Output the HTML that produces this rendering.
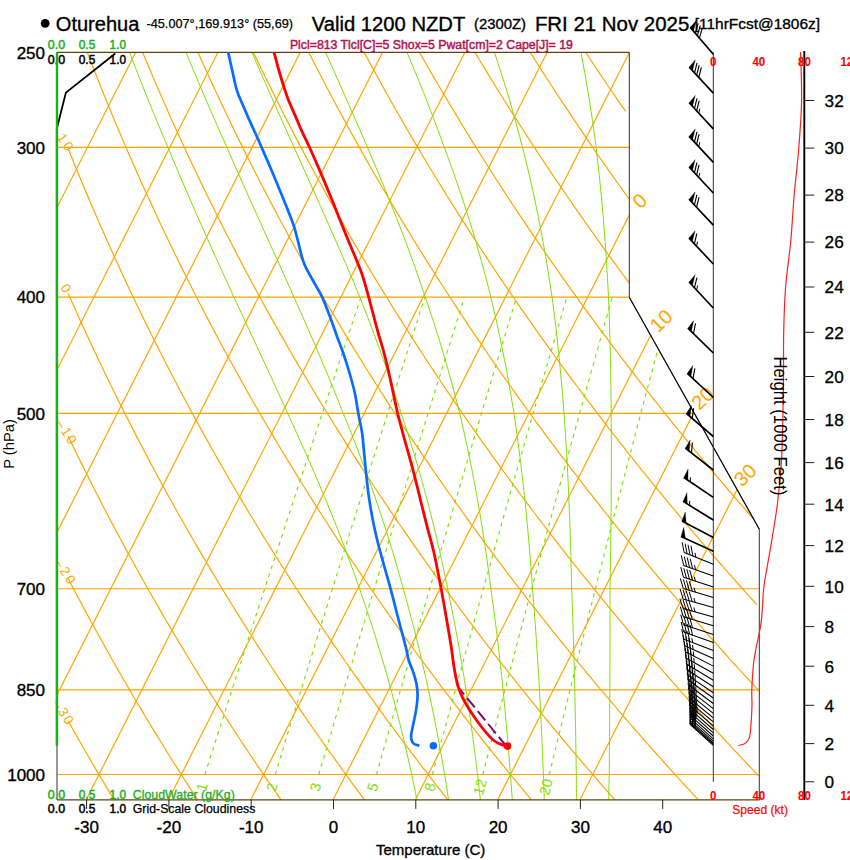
<!DOCTYPE html>
<html><head><meta charset="utf-8"><title>Oturehua Skew-T</title>
<style>html,body{margin:0;padding:0;background:#fff;}body{width:850px;height:860px;overflow:hidden;font-family:"Liberation Sans",sans-serif;}svg{display:block;}</style></head>
<body>
<svg width="850" height="860" viewBox="0 0 850 860" font-family="'Liberation Sans', sans-serif">
<defs><clipPath id="cp"><path d="M57.00 52.40 L629.30 52.40 L629.30 297.22 L759.30 529.20 L759.30 799.90 L57.00 799.90Z"/></clipPath></defs>
<g clip-path="url(#cp)" fill="none" stroke-width="1.2">
<path d="M57.0 147.37 H759.3" stroke="#ffa500"/>
<path d="M57.0 297.22 H759.3" stroke="#ffa500"/>
<path d="M57.0 413.46 H759.3" stroke="#ffa500"/>
<path d="M57.0 588.73 H759.3" stroke="#ffa500"/>
<path d="M57.0 689.86 H759.3" stroke="#ffa500"/>
<path d="M57.0 774.52 H759.3" stroke="#ffa500"/>
<path d="M-736.90 799.90 L-358.22 52.40" stroke="#ffa500"/>
<path d="M-654.60 799.90 L-275.92 52.40" stroke="#ffa500"/>
<path d="M-572.30 799.90 L-193.62 52.40" stroke="#ffa500"/>
<path d="M-490.00 799.90 L-111.32 52.40" stroke="#ffa500"/>
<path d="M-407.70 799.90 L-29.02 52.40" stroke="#ffa500"/>
<path d="M-325.40 799.90 L53.28 52.40" stroke="#ffa500"/>
<path d="M-243.10 799.90 L135.58 52.40" stroke="#ffa500"/>
<path d="M-160.80 799.90 L217.88 52.40" stroke="#ffa500"/>
<path d="M-78.50 799.90 L300.18 52.40" stroke="#ffa500"/>
<path d="M3.80 799.90 L382.48 52.40" stroke="#ffa500"/>
<path d="M86.10 799.90 L464.78 52.40" stroke="#ffa500"/>
<path d="M168.40 799.90 L547.08 52.40" stroke="#ffa500"/>
<path d="M250.70 799.90 L629.38 52.40" stroke="#ffa500"/>
<path d="M333.00 799.90 L711.68 52.40" stroke="#ffa500"/>
<path d="M415.30 799.90 L793.98 52.40" stroke="#ffa500"/>
<path d="M497.60 799.90 L876.28 52.40" stroke="#ffa500"/>
<path d="M579.90 799.90 L958.58 52.40" stroke="#ffa500"/>
<path d="M114.17 799.94 L112.67 797.45 L111.16 794.95 L109.64 792.44 L108.13 789.92 L106.61 787.38 L105.09 784.84 L103.56 782.28 L102.03 779.70 L100.49 777.12 L98.96 774.52 L97.42 771.91 L95.87 769.29 L94.32 766.65 L92.77 764.00 L91.22 761.33 L89.66 758.65 L88.09 755.96 L86.53 753.26 L84.96 750.54 L83.38 747.80 L81.80 745.05 L80.22 742.29 L78.63 739.51 L77.04 736.72 L75.45 733.91 L73.85 731.09 L72.25 728.25 L70.65 725.39 L69.04 722.52 L68.20 721.03" stroke="#ffa500"/>
<path d="M197.63 799.94 L196.01 797.45 L194.38 794.95 L192.76 792.44 L191.13 789.92 L189.49 787.38 L187.85 784.84 L186.21 782.28 L184.56 779.70 L182.91 777.12 L181.26 774.52 L179.60 771.91 L177.94 769.29 L176.27 766.65 L174.60 764.00 L172.92 761.33 L171.24 758.65 L169.56 755.96 L167.87 753.26 L166.18 750.54 L164.48 747.80 L162.78 745.05 L161.08 742.29 L159.37 739.51 L157.66 736.72 L155.94 733.91 L154.22 731.09 L152.49 728.25 L150.76 725.39 L149.02 722.52 L147.28 719.64 L145.54 716.74 L143.79 713.82 L142.03 710.88 L140.27 707.93 L138.51 704.96 L136.74 701.98 L134.97 698.98 L133.19 695.96 L131.41 692.92 L129.62 689.86 L127.83 686.79 L126.03 683.70 L124.23 680.59 L122.42 677.46 L120.61 674.31 L118.79 671.15 L116.96 667.96 L115.14 664.76 L113.30 661.53 L111.46 658.29 L109.62 655.02 L107.77 651.73 L105.92 648.43 L104.06 645.10 L102.19 641.75 L100.32 638.38 L98.45 634.98 L96.56 631.57 L94.68 628.13 L92.78 624.67 L90.88 621.18 L88.98 617.68 L87.07 614.14 L85.15 610.59 L83.23 607.01 L81.30 603.40 L79.37 599.77 L77.43 596.12 L75.48 592.44 L73.53 588.73 L71.58 584.99 L69.61 581.23 L68.20 578.52" stroke="#ffa500"/>
<path d="M281.08 799.94 L279.35 797.45 L277.61 794.95 L275.87 792.44 L274.12 789.92 L272.37 787.38 L270.62 784.84 L268.86 782.28 L267.10 779.70 L265.33 777.12 L263.56 774.52 L261.78 771.91 L260.00 769.29 L258.21 766.65 L256.42 764.00 L254.63 761.33 L252.83 758.65 L251.03 755.96 L249.22 753.26 L247.40 750.54 L245.59 747.80 L243.76 745.05 L241.94 742.29 L240.10 739.51 L238.27 736.72 L236.42 733.91 L234.58 731.09 L232.73 728.25 L230.87 725.39 L229.01 722.52 L227.14 719.64 L225.27 716.74 L223.39 713.82 L221.51 710.88 L219.62 707.93 L217.73 704.96 L215.83 701.98 L213.93 698.98 L212.02 695.96 L210.10 692.92 L208.18 689.86 L206.26 686.79 L204.33 683.70 L202.39 680.59 L200.45 677.46 L198.50 674.31 L196.55 671.15 L194.59 667.96 L192.63 664.76 L190.66 661.53 L188.68 658.29 L186.70 655.02 L184.71 651.73 L182.72 648.43 L180.72 645.10 L178.71 641.75 L176.70 638.38 L174.68 634.98 L172.66 631.57 L170.63 628.13 L168.59 624.67 L166.55 621.18 L164.50 617.68 L162.44 614.14 L160.38 610.59 L158.31 607.01 L156.23 603.40 L154.15 599.77 L152.06 596.12 L149.96 592.44 L147.86 588.73 L145.75 584.99 L143.63 581.23 L141.51 577.45 L139.38 573.63 L137.24 569.78 L135.09 565.91 L132.94 562.01 L130.78 558.08 L128.61 554.12 L126.44 550.13 L124.26 546.10 L122.07 542.05 L119.87 537.96 L117.66 533.85 L115.45 529.70 L113.23 525.51 L111.00 521.29 L108.77 517.04 L106.52 512.75 L104.27 508.43 L102.01 504.07 L99.74 499.68 L97.46 495.24 L95.17 490.77 L92.88 486.26 L90.58 481.71 L88.26 477.12 L85.94 472.49 L83.61 467.82 L81.28 463.11 L78.93 458.35 L76.57 453.55 L74.21 448.70 L71.83 443.81 L69.45 438.88 L68.20 436.28" stroke="#ffa500"/>
<path d="M364.54 799.94 L362.69 797.45 L360.84 794.95 L358.98 792.44 L357.12 789.92 L355.26 787.38 L353.39 784.84 L351.51 782.28 L349.63 779.70 L347.75 777.12 L345.86 774.52 L343.96 771.91 L342.06 769.29 L340.16 766.65 L338.25 764.00 L336.34 761.33 L334.42 758.65 L332.49 755.96 L330.56 753.26 L328.63 750.54 L326.69 747.80 L324.74 745.05 L322.79 742.29 L320.84 739.51 L318.88 736.72 L316.91 733.91 L314.94 731.09 L312.96 728.25 L310.98 725.39 L308.99 722.52 L307.00 719.64 L305.00 716.74 L303.00 713.82 L300.99 710.88 L298.97 707.93 L296.95 704.96 L294.92 701.98 L292.89 698.98 L290.85 695.96 L288.80 692.92 L286.75 689.86 L284.69 686.79 L282.63 683.70 L280.56 680.59 L278.48 677.46 L276.40 674.31 L274.31 671.15 L272.22 667.96 L270.12 664.76 L268.01 661.53 L265.90 658.29 L263.78 655.02 L261.65 651.73 L259.52 648.43 L257.38 645.10 L255.23 641.75 L253.08 638.38 L250.92 634.98 L248.75 631.57 L246.58 628.13 L244.40 624.67 L242.21 621.18 L240.01 617.68 L237.81 614.14 L235.60 610.59 L233.38 607.01 L231.16 603.40 L228.93 599.77 L226.69 596.12 L224.44 592.44 L222.19 588.73 L219.92 584.99 L217.65 581.23 L215.38 577.45 L213.09 573.63 L210.80 569.78 L208.50 565.91 L206.19 562.01 L203.87 558.08 L201.54 554.12 L199.21 550.13 L196.87 546.10 L194.52 542.05 L192.16 537.96 L189.79 533.85 L187.41 529.70 L185.02 525.51 L182.63 521.29 L180.23 517.04 L177.81 512.75 L175.39 508.43 L172.96 504.07 L170.52 499.68 L168.07 495.24 L165.61 490.77 L163.14 486.26 L160.67 481.71 L158.18 477.12 L155.68 472.49 L153.17 467.82 L150.65 463.11 L148.13 458.35 L145.59 453.55 L143.04 448.70 L140.48 443.81 L137.91 438.88 L135.33 433.89 L132.74 428.86 L130.14 423.78 L127.52 418.64 L124.90 413.46 L122.26 408.23 L119.62 402.94 L116.96 397.59 L114.29 392.20 L111.61 386.74 L108.91 381.23 L106.21 375.66 L103.49 370.03 L100.76 364.33 L98.02 358.58 L95.26 352.76 L92.49 346.87 L89.71 340.92 L86.92 334.90 L84.12 328.80 L81.30 322.64 L78.46 316.40 L75.62 310.09 L72.76 303.70 L69.88 297.22 L68.20 293.41" stroke="#ffa500"/>
<path d="M447.99 799.94 L446.03 797.45 L444.07 794.95 L442.10 792.44 L440.12 789.92 L438.14 787.38 L436.15 784.84 L434.16 782.28 L432.17 779.70 L430.16 777.12 L428.16 774.52 L426.15 771.91 L424.13 769.29 L422.10 766.65 L420.08 764.00 L418.04 761.33 L416.00 758.65 L413.96 755.96 L411.91 753.26 L409.85 750.54 L407.79 747.80 L405.73 745.05 L403.65 742.29 L401.57 739.51 L399.49 736.72 L397.40 733.91 L395.30 731.09 L393.20 728.25 L391.09 725.39 L388.98 722.52 L386.86 719.64 L384.73 716.74 L382.60 713.82 L380.46 710.88 L378.32 707.93 L376.17 704.96 L374.01 701.98 L371.85 698.98 L369.68 695.96 L367.50 692.92 L365.32 689.86 L363.13 686.79 L360.93 683.70 L358.73 680.59 L356.52 677.46 L354.30 674.31 L352.08 671.15 L349.85 667.96 L347.61 664.76 L345.37 661.53 L343.12 658.29 L340.86 655.02 L338.59 651.73 L336.32 648.43 L334.04 645.10 L331.75 641.75 L329.46 638.38 L327.15 634.98 L324.84 631.57 L322.53 628.13 L320.20 624.67 L317.87 621.18 L315.53 617.68 L313.18 614.14 L310.82 610.59 L308.46 607.01 L306.09 603.40 L303.70 599.77 L301.32 596.12 L298.92 592.44 L296.51 588.73 L294.10 584.99 L291.68 581.23 L289.24 577.45 L286.80 573.63 L284.36 569.78 L281.90 565.91 L279.43 562.01 L276.96 558.08 L274.47 554.12 L271.98 550.13 L269.48 546.10 L266.96 542.05 L264.44 537.96 L261.91 533.85 L259.37 529.70 L256.82 525.51 L254.26 521.29 L251.69 517.04 L249.11 512.75 L246.52 508.43 L243.92 504.07 L241.30 499.68 L238.68 495.24 L236.05 490.77 L233.41 486.26 L230.75 481.71 L228.09 477.12 L225.42 472.49 L222.73 467.82 L220.03 463.11 L217.32 458.35 L214.60 453.55 L211.87 448.70 L209.13 443.81 L206.37 438.88 L203.60 433.89 L200.82 428.86 L198.03 423.78 L195.23 418.64 L192.41 413.46 L189.58 408.23 L186.74 402.94 L183.89 397.59 L181.02 392.20 L178.14 386.74 L175.24 381.23 L172.34 375.66 L169.41 370.03 L166.48 364.33 L163.53 358.58 L160.57 352.76 L157.59 346.87 L154.60 340.92 L151.59 334.90 L148.57 328.80 L145.53 322.64 L142.48 316.40 L139.41 310.09 L136.33 303.70 L133.23 297.22 L130.11 290.67 L126.98 284.04 L123.83 277.32 L120.67 270.51 L117.49 263.61 L114.29 256.61 L111.08 249.53 L107.85 242.34 L104.60 235.06 L101.33 227.67 L98.04 220.17 L94.74 212.57 L91.42 204.85 L88.08 197.02 L84.72 189.07 L81.34 180.99 L77.94 172.79 L74.52 164.45 L71.08 155.98 L68.20 148.82" stroke="#ffa500"/>
<path d="M531.45 799.94 L529.37 797.45 L527.29 794.95 L525.21 792.44 L523.12 789.92 L521.02 787.38 L518.92 784.84 L516.81 782.28 L514.70 779.70 L512.58 777.12 L510.46 774.52 L508.33 771.91 L506.19 769.29 L504.05 766.65 L501.90 764.00 L499.75 761.33 L497.59 758.65 L495.43 755.96 L493.25 753.26 L491.08 750.54 L488.89 747.80 L486.71 745.05 L484.51 742.29 L482.31 739.51 L480.10 736.72 L477.89 733.91 L475.67 731.09 L473.44 728.25 L471.21 725.39 L468.97 722.52 L466.72 719.64 L464.47 716.74 L462.21 713.82 L459.94 710.88 L457.67 707.93 L455.39 704.96 L453.10 701.98 L450.81 698.98 L448.51 695.96 L446.20 692.92 L443.88 689.86 L441.56 686.79 L439.23 683.70 L436.90 680.59 L434.55 677.46 L432.20 674.31 L429.84 671.15 L427.48 667.96 L425.10 664.76 L422.72 661.53 L420.33 658.29 L417.94 655.02 L415.53 651.73 L413.12 648.43 L410.70 645.10 L408.27 641.75 L405.83 638.38 L403.39 634.98 L400.94 631.57 L398.48 628.13 L396.01 624.67 L393.53 621.18 L391.04 617.68 L388.55 614.14 L386.05 610.59 L383.53 607.01 L381.01 603.40 L378.48 599.77 L375.94 596.12 L373.40 592.44 L370.84 588.73 L368.27 584.99 L365.70 581.23 L363.11 577.45 L360.52 573.63 L357.91 569.78 L355.30 565.91 L352.68 562.01 L350.04 558.08 L347.40 554.12 L344.75 550.13 L342.08 546.10 L339.41 542.05 L336.73 537.96 L334.03 533.85 L331.33 529.70 L328.61 525.51 L325.89 521.29 L323.15 517.04 L320.40 512.75 L317.64 508.43 L314.87 504.07 L312.09 499.68 L309.29 495.24 L306.49 490.77 L303.67 486.26 L300.84 481.71 L298.00 477.12 L295.15 472.49 L292.29 467.82 L289.41 463.11 L286.52 458.35 L283.62 453.55 L280.70 448.70 L277.77 443.81 L274.83 438.88 L271.88 433.89 L268.91 428.86 L265.93 423.78 L262.94 418.64 L259.93 413.46 L256.90 408.23 L253.87 402.94 L250.82 397.59 L247.75 392.20 L244.67 386.74 L241.57 381.23 L238.46 375.66 L235.34 370.03 L232.20 364.33 L229.04 358.58 L225.87 352.76 L222.68 346.87 L219.48 340.92 L216.26 334.90 L213.02 328.80 L209.76 322.64 L206.49 316.40 L203.20 310.09 L199.90 303.70 L196.57 297.22 L193.23 290.67 L189.87 284.04 L186.49 277.32 L183.09 270.51 L179.68 263.61 L176.24 256.61 L172.79 249.53 L169.31 242.34 L165.82 235.06 L162.30 227.67 L158.77 220.17 L155.21 212.57 L151.63 204.85 L148.03 197.02 L144.41 189.07 L140.77 180.99 L137.10 172.79 L133.41 164.45 L129.70 155.98 L125.97 147.37 L122.21 138.62 L118.43 129.71 L114.62 120.65 L110.79 111.43 L106.93 102.05 L103.05 92.49 L99.15 82.75 L95.21 72.83 L91.25 62.72 L87.27 52.40" stroke="#ffa500"/>
<path d="M614.90 799.94 L612.71 797.45 L610.52 794.95 L608.32 792.44 L606.12 789.92 L603.90 787.38 L601.69 784.84 L599.46 782.28 L597.23 779.70 L595.00 777.12 L592.76 774.52 L590.51 771.91 L588.26 769.29 L586.00 766.65 L583.73 764.00 L581.46 761.33 L579.18 758.65 L576.89 755.96 L574.60 753.26 L572.30 750.54 L570.00 747.80 L567.69 745.05 L565.37 742.29 L563.04 739.51 L560.71 736.72 L558.37 733.91 L556.03 731.09 L553.68 728.25 L551.32 725.39 L548.95 722.52 L546.58 719.64 L544.20 716.74 L541.81 713.82 L539.42 710.88 L537.02 707.93 L534.61 704.96 L532.19 701.98 L529.77 698.98 L527.33 695.96 L524.90 692.92 L522.45 689.86 L519.99 686.79 L517.53 683.70 L515.06 680.59 L512.58 677.46 L510.10 674.31 L507.61 671.15 L505.10 667.96 L502.59 664.76 L500.08 661.53 L497.55 658.29 L495.01 655.02 L492.47 651.73 L489.92 648.43 L487.36 645.10 L484.79 641.75 L482.21 638.38 L479.63 634.98 L477.03 631.57 L474.43 628.13 L471.81 624.67 L469.19 621.18 L466.56 617.68 L463.92 614.14 L461.27 610.59 L458.61 607.01 L455.94 603.40 L453.26 599.77 L450.57 596.12 L447.87 592.44 L445.17 588.73 L442.45 584.99 L439.72 581.23 L436.98 577.45 L434.23 573.63 L431.47 569.78 L428.70 565.91 L425.92 562.01 L423.13 558.08 L420.33 554.12 L417.52 550.13 L414.69 546.10 L411.86 542.05 L409.01 537.96 L406.16 533.85 L403.29 529.70 L400.41 525.51 L397.51 521.29 L394.61 517.04 L391.69 512.75 L388.76 508.43 L385.82 504.07 L382.87 499.68 L379.91 495.24 L376.93 490.77 L373.94 486.26 L370.93 481.71 L367.92 477.12 L364.89 472.49 L361.84 467.82 L358.79 463.11 L355.72 458.35 L352.63 453.55 L349.53 448.70 L346.42 443.81 L343.30 438.88 L340.15 433.89 L337.00 428.86 L333.83 423.78 L330.64 418.64 L327.44 413.46 L324.22 408.23 L320.99 402.94 L317.75 397.59 L314.48 392.20 L311.20 386.74 L307.91 381.23 L304.59 375.66 L301.26 370.03 L297.92 364.33 L294.55 358.58 L291.17 352.76 L287.77 346.87 L284.36 340.92 L280.92 334.90 L277.47 328.80 L274.00 322.64 L270.51 316.40 L267.00 310.09 L263.47 303.70 L259.92 297.22 L256.35 290.67 L252.76 284.04 L249.15 277.32 L245.52 270.51 L241.86 263.61 L238.19 256.61 L234.50 249.53 L230.78 242.34 L227.04 235.06 L223.28 227.67 L219.49 220.17 L215.68 212.57 L211.85 204.85 L207.99 197.02 L204.11 189.07 L200.20 180.99 L196.27 172.79 L192.31 164.45 L188.33 155.98 L184.31 147.37 L180.28 138.62 L176.21 129.71 L172.12 120.65 L168.00 111.43 L163.85 102.05 L159.67 92.49 L155.46 82.75 L151.22 72.83 L146.95 62.72 L142.65 52.40" stroke="#ffa500"/>
<path d="M698.36 799.94 L696.06 797.45 L693.75 794.95 L691.43 792.44 L689.11 789.92 L686.79 787.38 L684.45 784.84 L682.11 782.28 L679.77 779.70 L677.42 777.12 L675.06 774.52 L672.69 771.91 L670.32 769.29 L667.94 766.65 L665.56 764.00 L663.16 761.33 L660.76 758.65 L658.36 755.96 L655.95 753.26 L653.53 750.54 L651.10 747.80 L648.67 745.05 L646.23 742.29 L643.78 739.51 L641.32 736.72 L638.86 733.91 L636.39 731.09 L633.91 728.25 L631.43 725.39 L628.94 722.52 L626.44 719.64 L623.93 716.74 L621.42 713.82 L618.89 710.88 L616.36 707.93 L613.83 704.96 L611.28 701.98 L608.73 698.98 L606.16 695.96 L603.59 692.92 L601.01 689.86 L598.43 686.79 L595.83 683.70 L593.23 680.59 L590.62 677.46 L588.00 674.31 L585.37 671.15 L582.73 667.96 L580.09 664.76 L577.43 661.53 L574.77 658.29 L572.09 655.02 L569.41 651.73 L566.72 648.43 L564.02 645.10 L561.31 641.75 L558.59 638.38 L555.86 634.98 L553.13 631.57 L550.38 628.13 L547.62 624.67 L544.85 621.18 L542.08 617.68 L539.29 614.14 L536.49 610.59 L533.68 607.01 L530.87 603.40 L528.04 599.77 L525.20 596.12 L522.35 592.44 L519.49 588.73 L516.62 584.99 L513.74 581.23 L510.85 577.45 L507.95 573.63 L505.03 569.78 L502.11 565.91 L499.17 562.01 L496.22 558.08 L493.26 554.12 L490.29 550.13 L487.30 546.10 L484.31 542.05 L481.30 537.96 L478.28 533.85 L475.24 529.70 L472.20 525.51 L469.14 521.29 L466.07 517.04 L462.99 512.75 L459.89 508.43 L456.78 504.07 L453.65 499.68 L450.52 495.24 L447.37 490.77 L444.20 486.26 L441.02 481.71 L437.83 477.12 L434.62 472.49 L431.40 467.82 L428.17 463.11 L424.91 458.35 L421.65 453.55 L418.37 448.70 L415.07 443.81 L411.76 438.88 L408.43 433.89 L405.08 428.86 L401.72 423.78 L398.35 418.64 L394.96 413.46 L391.55 408.23 L388.12 402.94 L384.67 397.59 L381.21 392.20 L377.73 386.74 L374.24 381.23 L370.72 375.66 L367.19 370.03 L363.64 364.33 L360.07 358.58 L356.48 352.76 L352.87 346.87 L349.24 340.92 L345.59 334.90 L341.92 328.80 L338.23 322.64 L334.52 316.40 L330.79 310.09 L327.04 303.70 L323.26 297.22 L319.46 290.67 L315.65 284.04 L311.80 277.32 L307.94 270.51 L304.05 263.61 L300.14 256.61 L296.20 249.53 L292.24 242.34 L288.26 235.06 L284.25 227.67 L280.21 220.17 L276.15 212.57 L272.06 204.85 L267.95 197.02 L263.80 189.07 L259.63 180.99 L255.43 172.79 L251.21 164.45 L246.95 155.98 L242.66 147.37 L238.34 138.62 L234.00 129.71 L229.62 120.65 L225.21 111.43 L220.76 102.05 L216.29 92.49 L211.77 82.75 L207.23 72.83 L202.65 62.72 L198.04 52.40" stroke="#ffa500"/>
<path d="M758.84 776.08 L757.36 774.52 L754.87 771.91 L752.38 769.29 L749.89 766.65 L747.38 764.00 L744.87 761.33 L742.35 758.65 L739.83 755.96 L737.29 753.26 L734.75 750.54 L732.20 747.80 L729.65 745.05 L727.08 742.29 L724.51 739.51 L721.93 736.72 L719.35 733.91 L716.75 731.09 L714.15 728.25 L711.54 725.39 L708.92 722.52 L706.30 719.64 L703.66 716.74 L701.02 713.82 L698.37 710.88 L695.71 707.93 L693.04 704.96 L690.37 701.98 L687.68 698.98 L684.99 695.96 L682.29 692.92 L679.58 689.86 L676.86 686.79 L674.13 683.70 L671.40 680.59 L668.65 677.46 L665.90 674.31 L663.13 671.15 L660.36 667.96 L657.58 664.76 L654.78 661.53 L651.98 658.29 L649.17 655.02 L646.35 651.73 L643.52 648.43 L640.68 645.10 L637.83 641.75 L634.97 638.38 L632.10 634.98 L629.22 631.57 L626.33 628.13 L623.43 624.67 L620.51 621.18 L617.59 617.68 L614.66 614.14 L611.72 610.59 L608.76 607.01 L605.79 603.40 L602.82 599.77 L599.83 596.12 L596.83 592.44 L593.82 588.73 L590.80 584.99 L587.76 581.23 L584.72 577.45 L581.66 573.63 L578.59 569.78 L575.51 565.91 L572.41 562.01 L569.31 558.08 L566.19 554.12 L563.06 550.13 L559.91 546.10 L556.75 542.05 L553.58 537.96 L550.40 533.85 L547.20 529.70 L543.99 525.51 L540.77 521.29 L537.53 517.04 L534.28 512.75 L531.01 508.43 L527.73 504.07 L524.44 499.68 L521.13 495.24 L517.81 490.77 L514.47 486.26 L511.11 481.71 L507.74 477.12 L504.36 472.49 L500.96 467.82 L497.54 463.11 L494.11 458.35 L490.66 453.55 L487.20 448.70 L483.72 443.81 L480.22 438.88 L476.70 433.89 L473.17 428.86 L469.62 423.78 L466.05 418.64 L462.47 413.46 L458.87 408.23 L455.24 402.94 L451.60 397.59 L447.94 392.20 L444.27 386.74 L440.57 381.23 L436.85 375.66 L433.11 370.03 L429.36 364.33 L425.58 358.58 L421.78 352.76 L417.96 346.87 L414.12 340.92 L410.26 334.90 L406.37 328.80 L402.46 322.64 L398.53 316.40 L394.58 310.09 L390.61 303.70 L386.61 297.22 L382.58 290.67 L378.53 284.04 L374.46 277.32 L370.36 270.51 L366.24 263.61 L362.09 256.61 L357.91 249.53 L353.71 242.34 L349.48 235.06 L345.22 227.67 L340.94 220.17 L336.62 212.57 L332.28 204.85 L327.90 197.02 L323.50 189.07 L319.06 180.99 L314.60 172.79 L310.10 164.45 L305.57 155.98 L301.01 147.37 L296.41 138.62 L291.78 129.71 L287.11 120.65 L282.41 111.43 L277.68 102.05 L272.90 92.49 L268.09 82.75 L263.24 72.83 L258.35 62.72 L253.42 52.40" stroke="#ffa500"/>
<path d="M759.28 691.09 L758.15 689.86 L755.30 686.79 L752.43 683.70 L749.56 680.59 L746.68 677.46 L743.80 674.31 L740.90 671.15 L737.99 667.96 L735.07 664.76 L732.14 661.53 L729.20 658.29 L726.25 655.02 L723.29 651.73 L720.32 648.43 L717.34 645.10 L714.35 641.75 L711.35 638.38 L708.34 634.98 L705.31 631.57 L702.28 628.13 L699.23 624.67 L696.18 621.18 L693.11 617.68 L690.03 614.14 L686.94 610.59 L683.84 607.01 L680.72 603.40 L677.60 599.77 L674.46 596.12 L671.31 592.44 L668.15 588.73 L664.97 584.99 L661.78 581.23 L658.59 577.45 L655.37 573.63 L652.15 569.78 L648.91 565.91 L645.66 562.01 L642.39 558.08 L639.12 554.12 L635.83 550.13 L632.52 546.10 L629.20 542.05 L625.87 537.96 L622.52 533.85 L619.16 529.70 L615.79 525.51 L612.40 521.29 L608.99 517.04 L605.57 512.75 L602.14 508.43 L598.69 504.07 L595.22 499.68 L591.74 495.24 L588.24 490.77 L584.73 486.26 L581.20 481.71 L577.66 477.12 L574.10 472.49 L570.52 467.82 L566.92 463.11 L563.31 458.35 L559.68 453.55 L556.03 448.70 L552.36 443.81 L548.68 438.88 L544.98 433.89 L541.26 428.86 L537.52 423.78 L533.76 418.64 L529.98 413.46 L526.19 408.23 L522.37 402.94 L518.53 397.59 L514.68 392.20 L510.80 386.74 L506.90 381.23 L502.98 375.66 L499.04 370.03 L495.08 364.33 L491.09 358.58 L487.08 352.76 L483.05 346.87 L479.00 340.92 L474.92 334.90 L470.82 328.80 L466.70 322.64 L462.55 316.40 L458.37 310.09 L454.18 303.70 L449.95 297.22 L445.70 290.67 L441.42 284.04 L437.12 277.32 L432.79 270.51 L428.43 263.61 L424.04 256.61 L419.62 249.53 L415.18 242.34 L410.70 235.06 L406.20 227.67 L401.66 220.17 L397.09 212.57 L392.49 204.85 L387.86 197.02 L383.20 189.07 L378.50 180.99 L373.76 172.79 L369.00 164.45 L364.19 155.98 L359.35 147.37 L354.48 138.62 L349.56 129.71 L344.61 120.65 L339.62 111.43 L334.59 102.05 L329.52 92.49 L324.40 82.75 L319.25 72.83 L314.05 62.72 L308.81 52.40" stroke="#ffa500"/>
<path d="M756.96 604.85 L755.65 603.40 L752.37 599.77 L749.09 596.12 L745.79 592.44 L742.47 588.73 L739.15 584.99 L735.81 581.23 L732.45 577.45 L729.09 573.63 L725.71 569.78 L722.31 565.91 L718.90 562.01 L715.48 558.08 L712.05 554.12 L708.60 550.13 L705.13 546.10 L701.65 542.05 L698.16 537.96 L694.65 533.85 L691.12 529.70 L687.58 525.51 L684.02 521.29 L680.45 517.04 L676.87 512.75 L673.26 508.43 L669.64 504.07 L666.01 499.68 L662.35 495.24 L658.68 490.77 L655.00 486.26 L651.29 481.71 L647.57 477.12 L643.83 472.49 L640.07 467.82 L636.30 463.11 L632.51 458.35 L628.69 453.55 L624.86 448.70 L621.01 443.81 L617.14 438.88 L613.25 433.89 L609.35 428.86 L605.42 423.78 L601.47 418.64 L597.50 413.46 L593.51 408.23 L589.50 402.94 L585.46 397.59 L581.41 392.20 L577.33 386.74 L573.23 381.23 L569.11 375.66 L564.96 370.03 L560.80 364.33 L556.60 358.58 L552.39 352.76 L548.15 346.87 L543.88 340.92 L539.59 334.90 L535.27 328.80 L530.93 322.64 L526.56 316.40 L522.17 310.09 L517.74 303.70 L513.29 297.22 L508.82 290.67 L504.31 284.04 L499.77 277.32 L495.21 270.51 L490.61 263.61 L485.99 256.61 L481.33 249.53 L476.64 242.34 L471.92 235.06 L467.17 227.67 L462.38 220.17 L457.56 212.57 L452.71 204.85 L447.82 197.02 L442.89 189.07 L437.93 180.99 L432.93 172.79 L427.89 164.45 L422.82 155.98 L417.70 147.37 L412.54 138.62 L407.35 129.71 L402.11 120.65 L396.83 111.43 L391.50 102.05 L386.13 92.49 L380.72 82.75 L375.26 72.83 L369.75 62.72 L364.19 52.40" stroke="#ffa500"/>
<path d="M757.89 523.83 L755.65 521.29 L751.91 517.04 L748.16 512.75 L744.39 508.43 L740.60 504.07 L736.79 499.68 L732.96 495.24 L729.12 490.77 L725.26 486.26 L721.38 481.71 L717.48 477.12 L713.57 472.49 L709.63 467.82 L705.68 463.11 L701.70 458.35 L697.71 453.55 L693.69 448.70 L689.66 443.81 L685.60 438.88 L681.53 433.89 L677.43 428.86 L673.31 423.78 L669.17 418.64 L665.01 413.46 L660.83 408.23 L656.62 402.94 L652.39 397.59 L648.14 392.20 L643.86 386.74 L639.56 381.23 L635.24 375.66 L630.89 370.03 L626.51 364.33 L622.12 358.58 L617.69 352.76 L613.24 346.87 L608.76 340.92 L604.26 334.90 L599.72 328.80 L595.16 322.64 L590.58 316.40 L585.96 310.09 L581.31 303.70 L576.64 297.22 L571.93 290.67 L567.20 284.04 L562.43 277.32 L557.63 270.51 L552.80 263.61 L547.94 256.61 L543.04 249.53 L538.11 242.34 L533.14 235.06 L528.14 227.67 L523.11 220.17 L518.03 212.57 L512.92 204.85 L507.77 197.02 L502.59 189.07 L497.36 180.99 L492.09 172.79 L486.79 164.45 L481.44 155.98 L476.05 147.37 L470.61 138.62 L465.13 129.71 L459.61 120.65 L454.04 111.43 L448.42 102.05 L442.75 92.49 L437.03 82.75 L431.27 72.83 L425.45 62.72 L419.58 52.40" stroke="#ffa500"/>
<path d="M635.05 290.67 L630.09 284.04 L625.09 277.32 L620.05 270.51 L614.99 263.61 L609.89 256.61 L604.75 249.53 L599.57 242.34 L594.36 235.06 L589.12 227.67 L583.83 220.17 L578.50 212.57 L573.14 204.85 L567.73 197.02 L562.28 189.07 L556.79 180.99 L551.26 172.79 L545.68 164.45 L540.06 155.98 L534.39 147.37 L528.68 138.62 L522.92 129.71 L517.10 120.65 L511.24 111.43 L505.33 102.05 L499.37 92.49 L493.35 82.75 L487.28 72.83 L481.15 62.72 L474.96 52.40" stroke="#ffa500"/>
<path d="M632.22 203.29 L627.69 197.02 L621.98 189.07 L616.22 180.99 L610.43 172.79 L604.58 164.45 L598.68 155.98 L592.74 147.37 L586.74 138.62 L580.70 129.71 L574.60 120.65 L568.45 111.43 L562.24 102.05 L555.98 92.49 L549.66 82.75 L543.28 72.83 L536.85 62.72 L530.35 52.40" stroke="#ffa500"/>
<path d="M625.66 111.43 L619.16 102.05 L612.60 92.49 L605.98 82.75 L599.29 72.83 L592.55 62.72 L585.73 52.40" stroke="#ffa500"/>
<path d="M1366.00 799.94 L1362.79 797.45 L1359.57 794.95 L1356.34 792.44 L1353.10 789.92 L1349.85 787.38 L1346.59 784.84 L1343.32 782.28 L1340.04 779.70 L1336.75 777.12 L1333.46 774.52 L1330.15 771.91 L1326.83 769.29 L1323.50 766.65 L1320.17 764.00 L1316.82 761.33 L1313.46 758.65 L1310.09 755.96 L1306.71 753.26 L1303.32 750.54 L1299.92 747.80 L1296.51 745.05 L1293.09 742.29 L1289.66 739.51 L1286.21 736.72 L1282.76 733.91 L1279.29 731.09 L1275.81 728.25 L1272.33 725.39 L1268.83 722.52 L1265.31 719.64 L1261.79 716.74 L1258.26 713.82 L1254.71 710.88 L1251.15 707.93 L1247.58 704.96 L1244.00 701.98 L1240.40 698.98 L1236.80 695.96 L1233.18 692.92 L1229.54 689.86 L1225.90 686.79 L1222.24 683.70 L1218.57 680.59 L1214.89 677.46 L1211.19 674.31 L1207.48 671.15 L1203.75 667.96 L1200.02 664.76 L1196.27 661.53 L1192.50 658.29 L1188.72 655.02 L1184.93 651.73 L1181.12 648.43 L1177.30 645.10 L1173.47 641.75 L1169.62 638.38 L1165.75 634.98 L1161.87 631.57 L1157.98 628.13 L1154.07 624.67 L1150.15 621.18 L1146.20 617.68 L1142.25 614.14 L1138.28 610.59 L1134.29 607.01 L1130.29 603.40 L1126.27 599.77 L1122.23 596.12 L1118.18 592.44 L1114.11 588.73 L1110.02 584.99 L1105.91 581.23 L1101.79 577.45 L1097.65 573.63 L1093.50 569.78 L1089.32 565.91 L1085.13 562.01 L1080.92 558.08 L1076.69 554.12 L1072.44 550.13 L1068.18 546.10 L1063.89 542.05 L1059.58 537.96 L1055.26 533.85 L1050.91 529.70 L1046.55 525.51 L1042.16 521.29 L1037.76 517.04 L1033.33 512.75 L1028.88 508.43 L1024.41 504.07 L1019.92 499.68 L1015.41 495.24 L1010.88 490.77 L1006.32 486.26 L1001.74 481.71 L997.14 477.12 L992.51 472.49 L987.86 467.82 L983.19 463.11 L978.49 458.35 L973.77 453.55 L969.02 448.70 L964.25 443.81 L959.45 438.88 L954.63 433.89 L949.78 428.86 L944.90 423.78 L940.00 418.64 L935.07 413.46 L930.11 408.23 L925.12 402.94 L920.11 397.59 L915.06 392.20 L909.99 386.74 L904.89 381.23 L899.75 375.66 L894.59 370.03 L889.39 364.33 L884.16 358.58 L878.90 352.76 L873.61 346.87 L868.28 340.92 L862.92 334.90 L857.53 328.80 L852.10 322.64 L846.63 316.40 L841.13 310.09 L835.59 303.70 L830.02 297.22 L824.40 290.67 L818.75 284.04 L813.06 277.32 L807.32 270.51 L801.55 263.61 L795.73 256.61 L789.87 249.53 L783.97 242.34 L778.03 235.06 L772.04 227.67 L766.00 220.17 L759.91 212.57 L753.78 204.85 L747.60 197.02 L741.37 189.07 L735.09 180.99 L728.76 172.79 L722.37 164.45 L715.93 155.98 L709.43 147.37 L702.88 138.62 L696.27 129.71 L689.60 120.65 L682.87 111.43 L676.07 102.05 L669.21 92.49 L662.29 82.75 L655.30 72.83 L648.24 62.72 L641.12 52.40" stroke="#ffa500"/>
<path d="M1449.46 799.94 L1446.13 797.45 L1442.79 794.95 L1439.45 792.44 L1436.10 789.92 L1432.73 787.38 L1429.36 784.84 L1425.97 782.28 L1422.58 779.70 L1419.17 777.12 L1415.76 774.52 L1412.33 771.91 L1408.90 769.29 L1405.45 766.65 L1401.99 764.00 L1398.53 761.33 L1395.05 758.65 L1391.56 755.96 L1388.06 753.26 L1384.55 750.54 L1381.02 747.80 L1377.49 745.05 L1373.95 742.29 L1370.39 739.51 L1366.82 736.72 L1363.25 733.91 L1359.65 731.09 L1356.05 728.25 L1352.44 725.39 L1348.81 722.52 L1345.17 719.64 L1341.52 716.74 L1337.86 713.82 L1334.19 710.88 L1330.50 707.93 L1326.80 704.96 L1323.09 701.98 L1319.36 698.98 L1315.62 695.96 L1311.87 692.92 L1308.11 689.86 L1304.33 686.79 L1300.54 683.70 L1296.74 680.59 L1292.92 677.46 L1289.09 674.31 L1285.24 671.15 L1281.38 667.96 L1277.51 664.76 L1273.62 661.53 L1269.72 658.29 L1265.80 655.02 L1261.87 651.73 L1257.92 648.43 L1253.96 645.10 L1249.99 641.75 L1246.00 638.38 L1241.99 634.98 L1237.97 631.57 L1233.93 628.13 L1229.88 624.67 L1225.81 621.18 L1221.72 617.68 L1217.62 614.14 L1213.50 610.59 L1209.36 607.01 L1205.21 603.40 L1201.04 599.77 L1196.86 596.12 L1192.65 592.44 L1188.43 588.73 L1184.19 584.99 L1179.94 581.23 L1175.66 577.45 L1171.37 573.63 L1167.06 569.78 L1162.73 565.91 L1158.38 562.01 L1154.01 558.08 L1149.62 554.12 L1145.21 550.13 L1140.78 546.10 L1136.34 542.05 L1131.87 537.96 L1127.38 533.85 L1122.87 529.70 L1118.34 525.51 L1113.79 521.29 L1109.22 517.04 L1104.62 512.75 L1100.01 508.43 L1095.37 504.07 L1090.71 499.68 L1086.02 495.24 L1081.31 490.77 L1076.58 486.26 L1071.83 481.71 L1067.05 477.12 L1062.25 472.49 L1057.42 467.82 L1052.57 463.11 L1047.69 458.35 L1042.78 453.55 L1037.85 448.70 L1032.90 443.81 L1027.91 438.88 L1022.90 433.89 L1017.87 428.86 L1012.80 423.78 L1007.71 418.64 L1002.58 413.46 L997.43 408.23 L992.25 402.94 L987.04 397.59 L981.80 392.20 L976.52 386.74 L971.22 381.23 L965.88 375.66 L960.51 370.03 L955.11 364.33 L949.68 358.58 L944.21 352.76 L938.70 346.87 L933.16 340.92 L927.59 334.90 L921.98 328.80 L916.33 322.64 L910.65 316.40 L904.92 310.09 L899.16 303.70 L893.36 297.22 L887.52 290.67 L881.64 284.04 L875.71 277.32 L869.75 270.51 L863.74 263.61 L857.68 256.61 L851.58 249.53 L845.44 242.34 L839.25 235.06 L833.01 227.67 L826.72 220.17 L820.38 212.57 L814.00 204.85 L807.56 197.02 L801.07 189.07 L794.52 180.99 L787.92 172.79 L781.26 164.45 L774.55 155.98 L767.78 147.37 L760.95 138.62 L754.05 129.71 L747.09 120.65 L740.07 111.43 L732.99 102.05 L725.83 92.49 L718.61 82.75 L711.31 72.83 L703.94 62.72 L696.50 52.40" stroke="#ffa500"/>
<path d="M1532.91 799.94 L1529.47 797.45 L1526.02 794.95 L1522.56 792.44 L1519.09 789.92 L1515.61 787.38 L1512.12 784.84 L1508.62 782.28 L1505.11 779.70 L1501.59 777.12 L1498.06 774.52 L1494.51 771.91 L1490.96 769.29 L1487.40 766.65 L1483.82 764.00 L1480.23 761.33 L1476.63 758.65 L1473.02 755.96 L1469.40 753.26 L1465.77 750.54 L1462.13 747.80 L1458.47 745.05 L1454.80 742.29 L1451.13 739.51 L1447.44 736.72 L1443.73 733.91 L1440.02 731.09 L1436.29 728.25 L1432.55 725.39 L1428.80 722.52 L1425.03 719.64 L1421.26 716.74 L1417.47 713.82 L1413.66 710.88 L1409.85 707.93 L1406.02 704.96 L1402.18 701.98 L1398.32 698.98 L1394.45 695.96 L1390.57 692.92 L1386.68 689.86 L1382.77 686.79 L1378.84 683.70 L1374.90 680.59 L1370.95 677.46 L1366.99 674.31 L1363.01 671.15 L1359.01 667.96 L1355.00 664.76 L1350.98 661.53 L1346.94 658.29 L1342.88 655.02 L1338.81 651.73 L1334.73 648.43 L1330.62 645.10 L1326.51 641.75 L1322.37 638.38 L1318.23 634.98 L1314.06 631.57 L1309.88 628.13 L1305.68 624.67 L1301.47 621.18 L1297.24 617.68 L1292.99 614.14 L1288.72 610.59 L1284.44 607.01 L1280.14 603.40 L1275.82 599.77 L1271.49 596.12 L1267.13 592.44 L1262.76 588.73 L1258.37 584.99 L1253.96 581.23 L1249.53 577.45 L1245.08 573.63 L1240.61 569.78 L1236.13 565.91 L1231.62 562.01 L1227.10 558.08 L1222.55 554.12 L1217.98 550.13 L1213.39 546.10 L1208.79 542.05 L1204.16 537.96 L1199.50 533.85 L1194.83 529.70 L1190.14 525.51 L1185.42 521.29 L1180.68 517.04 L1175.92 512.75 L1171.13 508.43 L1166.32 504.07 L1161.49 499.68 L1156.63 495.24 L1151.75 490.77 L1146.85 486.26 L1141.92 481.71 L1136.96 477.12 L1131.98 472.49 L1126.98 467.82 L1121.94 463.11 L1116.89 458.35 L1111.80 453.55 L1106.69 448.70 L1101.55 443.81 L1096.38 438.88 L1091.18 433.89 L1085.95 428.86 L1080.70 423.78 L1075.41 418.64 L1070.10 413.46 L1064.75 408.23 L1059.38 402.94 L1053.97 397.59 L1048.53 392.20 L1043.06 386.74 L1037.55 381.23 L1032.01 375.66 L1026.44 370.03 L1020.83 364.33 L1015.19 358.58 L1009.51 352.76 L1003.80 346.87 L998.05 340.92 L992.26 334.90 L986.43 328.80 L980.57 322.64 L974.66 316.40 L968.72 310.09 L962.73 303.70 L956.71 297.22 L950.64 290.67 L944.52 284.04 L938.37 277.32 L932.17 270.51 L925.92 263.61 L919.63 256.61 L913.29 249.53 L906.90 242.34 L900.47 235.06 L893.98 227.67 L887.44 220.17 L880.86 212.57 L874.21 204.85 L867.52 197.02 L860.76 189.07 L853.95 180.99 L847.09 172.79 L840.16 164.45 L833.17 155.98 L826.12 147.37 L819.01 138.62 L811.84 129.71 L804.59 120.65 L797.28 111.43 L789.90 102.05 L782.45 92.49 L774.92 82.75 L767.32 72.83 L759.64 62.72 L751.89 52.40" stroke="#ffa500"/>
<path d="M1616.37 799.94 L1612.81 797.45 L1609.25 794.95 L1605.68 792.44 L1602.09 789.92 L1598.50 787.38 L1594.89 784.84 L1591.27 782.28 L1587.65 779.70 L1584.01 777.12 L1580.36 774.52 L1576.70 771.91 L1573.02 769.29 L1569.34 766.65 L1565.65 764.00 L1561.94 761.33 L1558.22 758.65 L1554.49 755.96 L1550.75 753.26 L1547.00 750.54 L1543.23 747.80 L1539.45 745.05 L1535.66 742.29 L1531.86 739.51 L1528.05 736.72 L1524.22 733.91 L1520.38 731.09 L1516.53 728.25 L1512.66 725.39 L1508.78 722.52 L1504.89 719.64 L1500.99 716.74 L1497.07 713.82 L1493.14 710.88 L1489.20 707.93 L1485.24 704.96 L1481.27 701.98 L1477.28 698.98 L1473.28 695.96 L1469.27 692.92 L1465.24 689.86 L1461.20 686.79 L1457.14 683.70 L1453.07 680.59 L1448.99 677.46 L1444.88 674.31 L1440.77 671.15 L1436.64 667.96 L1432.49 664.76 L1428.33 661.53 L1424.15 658.29 L1419.96 655.02 L1415.75 651.73 L1411.53 648.43 L1407.28 645.10 L1403.03 641.75 L1398.75 638.38 L1394.46 634.98 L1390.15 631.57 L1385.83 628.13 L1381.49 624.67 L1377.13 621.18 L1372.75 617.68 L1368.36 614.14 L1363.95 610.59 L1359.52 607.01 L1355.07 603.40 L1350.60 599.77 L1346.11 596.12 L1341.61 592.44 L1337.09 588.73 L1332.54 584.99 L1327.98 581.23 L1323.40 577.45 L1318.80 573.63 L1314.17 569.78 L1309.53 565.91 L1304.87 562.01 L1300.18 558.08 L1295.48 554.12 L1290.75 550.13 L1286.00 546.10 L1281.23 542.05 L1276.44 537.96 L1271.63 533.85 L1266.79 529.70 L1261.93 525.51 L1257.05 521.29 L1252.14 517.04 L1247.21 512.75 L1242.26 508.43 L1237.28 504.07 L1232.27 499.68 L1227.25 495.24 L1222.19 490.77 L1217.11 486.26 L1212.01 481.71 L1206.88 477.12 L1201.72 472.49 L1196.53 467.82 L1191.32 463.11 L1186.08 458.35 L1180.81 453.55 L1175.52 448.70 L1170.19 443.81 L1164.84 438.88 L1159.45 433.89 L1154.04 428.86 L1148.60 423.78 L1143.12 418.64 L1137.61 413.46 L1132.07 408.23 L1126.50 402.94 L1120.90 397.59 L1115.26 392.20 L1109.59 386.74 L1103.88 381.23 L1098.14 375.66 L1092.36 370.03 L1086.55 364.33 L1080.70 358.58 L1074.81 352.76 L1068.89 346.87 L1062.93 340.92 L1056.92 334.90 L1050.88 328.80 L1044.80 322.64 L1038.68 316.40 L1032.51 310.09 L1026.30 303.70 L1020.05 297.22 L1013.75 290.67 L1007.41 284.04 L1001.03 277.32 L994.59 270.51 L988.11 263.61 L981.58 256.61 L975.00 249.53 L968.37 242.34 L961.69 235.06 L954.96 227.67 L948.17 220.17 L941.33 212.57 L934.43 204.85 L927.47 197.02 L920.46 189.07 L913.39 180.99 L906.25 172.79 L899.06 164.45 L891.80 155.98 L884.47 147.37 L877.08 138.62 L869.62 129.71 L862.09 120.65 L854.49 111.43 L846.81 102.05 L839.06 92.49 L831.24 82.75 L823.33 72.83 L815.34 62.72 L807.27 52.40" stroke="#ffa500"/>
<path d="M1699.82 799.94 L1696.15 797.45 L1692.48 794.95 L1688.79 792.44 L1685.09 789.92 L1681.38 787.38 L1677.66 784.84 L1673.92 782.28 L1670.18 779.70 L1666.42 777.12 L1662.66 774.52 L1658.88 771.91 L1655.09 769.29 L1651.29 766.65 L1647.47 764.00 L1643.65 761.33 L1639.81 758.65 L1635.96 755.96 L1632.10 753.26 L1628.22 750.54 L1624.33 747.80 L1620.43 745.05 L1616.52 742.29 L1612.60 739.51 L1608.66 736.72 L1604.71 733.91 L1600.74 731.09 L1596.77 728.25 L1592.77 725.39 L1588.77 722.52 L1584.75 719.64 L1580.72 716.74 L1576.68 713.82 L1572.62 710.88 L1568.55 707.93 L1564.46 704.96 L1560.36 701.98 L1556.24 698.98 L1552.11 695.96 L1547.97 692.92 L1543.81 689.86 L1539.63 686.79 L1535.44 683.70 L1531.24 680.59 L1527.02 677.46 L1522.78 674.31 L1518.53 671.15 L1514.27 667.96 L1509.98 664.76 L1505.68 661.53 L1501.37 658.29 L1497.04 655.02 L1492.69 651.73 L1488.33 648.43 L1483.95 645.10 L1479.55 641.75 L1475.13 638.38 L1470.70 634.98 L1466.25 631.57 L1461.78 628.13 L1457.29 624.67 L1452.79 621.18 L1448.27 617.68 L1443.73 614.14 L1439.17 610.59 L1434.59 607.01 L1429.99 603.40 L1425.38 599.77 L1420.74 596.12 L1416.09 592.44 L1411.41 588.73 L1406.72 584.99 L1402.00 581.23 L1397.27 577.45 L1392.51 573.63 L1387.73 569.78 L1382.93 565.91 L1378.11 562.01 L1373.27 558.08 L1368.41 554.12 L1363.52 550.13 L1358.61 546.10 L1353.68 542.05 L1348.73 537.96 L1343.75 533.85 L1338.75 529.70 L1333.72 525.51 L1328.67 521.29 L1323.60 517.04 L1318.50 512.75 L1313.38 508.43 L1308.23 504.07 L1303.06 499.68 L1297.86 495.24 L1292.63 490.77 L1287.38 486.26 L1282.10 481.71 L1276.79 477.12 L1271.46 472.49 L1266.09 467.82 L1260.70 463.11 L1255.28 458.35 L1249.83 453.55 L1244.35 448.70 L1238.84 443.81 L1233.30 438.88 L1227.73 433.89 L1222.13 428.86 L1216.49 423.78 L1210.83 418.64 L1205.13 413.46 L1199.39 408.23 L1193.63 402.94 L1187.83 397.59 L1181.99 392.20 L1176.12 386.74 L1170.21 381.23 L1164.27 375.66 L1158.29 370.03 L1152.27 364.33 L1146.21 358.58 L1140.12 352.76 L1133.98 346.87 L1127.81 340.92 L1121.59 334.90 L1115.33 328.80 L1109.03 322.64 L1102.69 316.40 L1096.30 310.09 L1089.87 303.70 L1083.39 297.22 L1076.87 290.67 L1070.30 284.04 L1063.68 277.32 L1057.01 270.51 L1050.30 263.61 L1043.53 256.61 L1036.71 249.53 L1029.84 242.34 L1022.91 235.06 L1015.93 227.67 L1008.89 220.17 L1001.80 212.57 L994.64 204.85 L987.43 197.02 L980.15 189.07 L972.82 180.99 L965.42 172.79 L957.95 164.45 L950.42 155.98 L942.82 147.37 L935.15 138.62 L927.40 129.71 L919.59 120.65 L911.70 111.43 L903.73 102.05 L895.68 92.49 L887.55 82.75 L879.34 72.83 L871.04 62.72 L862.66 52.40" stroke="#ffa500"/>
<path d="M1783.28 799.94 L1779.50 797.45 L1775.70 794.95 L1771.90 792.44 L1768.09 789.92 L1764.26 787.38 L1760.42 784.84 L1756.57 782.28 L1752.71 779.70 L1748.84 777.12 L1744.96 774.52 L1741.06 771.91 L1737.15 769.29 L1733.23 766.65 L1729.30 764.00 L1725.35 761.33 L1721.39 758.65 L1717.42 755.96 L1713.44 753.26 L1709.44 750.54 L1705.44 747.80 L1701.41 745.05 L1697.38 742.29 L1693.33 739.51 L1689.27 736.72 L1685.19 733.91 L1681.10 731.09 L1677.00 728.25 L1672.89 725.39 L1668.76 722.52 L1664.61 719.64 L1660.45 716.74 L1656.28 713.82 L1652.09 710.88 L1647.89 707.93 L1643.68 704.96 L1639.45 701.98 L1635.20 698.98 L1630.94 695.96 L1626.66 692.92 L1622.37 689.86 L1618.07 686.79 L1613.74 683.70 L1609.41 680.59 L1605.05 677.46 L1600.68 674.31 L1596.30 671.15 L1591.89 667.96 L1587.47 664.76 L1583.04 661.53 L1578.59 658.29 L1574.12 655.02 L1569.63 651.73 L1565.13 648.43 L1560.61 645.10 L1556.07 641.75 L1551.51 638.38 L1546.94 634.98 L1542.34 631.57 L1537.73 628.13 L1533.10 624.67 L1528.45 621.18 L1523.78 617.68 L1519.10 614.14 L1514.39 610.59 L1509.67 607.01 L1504.92 603.40 L1500.16 599.77 L1495.37 596.12 L1490.57 592.44 L1485.74 588.73 L1480.89 584.99 L1476.02 581.23 L1471.13 577.45 L1466.22 573.63 L1461.29 569.78 L1456.33 565.91 L1451.36 562.01 L1446.36 558.08 L1441.34 554.12 L1436.29 550.13 L1431.22 546.10 L1426.13 542.05 L1421.01 537.96 L1415.87 533.85 L1410.71 529.70 L1405.52 525.51 L1400.30 521.29 L1395.06 517.04 L1389.80 512.75 L1384.50 508.43 L1379.19 504.07 L1373.84 499.68 L1368.47 495.24 L1363.07 490.77 L1357.64 486.26 L1352.19 481.71 L1346.70 477.12 L1341.19 472.49 L1335.65 467.82 L1330.08 463.11 L1324.48 458.35 L1318.85 453.55 L1313.18 448.70 L1307.49 443.81 L1301.76 438.88 L1296.00 433.89 L1290.21 428.86 L1284.39 423.78 L1278.53 418.64 L1272.64 413.46 L1266.71 408.23 L1260.75 402.94 L1254.76 397.59 L1248.72 392.20 L1242.65 386.74 L1236.54 381.23 L1230.40 375.66 L1224.21 370.03 L1217.99 364.33 L1211.73 358.58 L1205.42 352.76 L1199.08 346.87 L1192.69 340.92 L1186.26 334.90 L1179.78 328.80 L1173.27 322.64 L1166.70 316.40 L1160.10 310.09 L1153.44 303.70 L1146.74 297.22 L1139.99 290.67 L1133.19 284.04 L1126.34 277.32 L1119.44 270.51 L1112.48 263.61 L1105.48 256.61 L1098.42 249.53 L1091.30 242.34 L1084.13 235.06 L1076.90 227.67 L1069.61 220.17 L1062.27 212.57 L1054.86 204.85 L1047.39 197.02 L1039.85 189.07 L1032.25 180.99 L1024.58 172.79 L1016.85 164.45 L1009.04 155.98 L1001.16 147.37 L993.21 138.62 L985.19 129.71 L977.08 120.65 L968.90 111.43 L960.64 102.05 L952.30 92.49 L943.87 82.75 L935.35 72.83 L926.74 62.72 L918.04 52.40" stroke="#ffa500"/>
<path d="M416.89 799.94 L416.40 797.45 L415.90 794.95 L415.40 792.44 L414.89 789.92 L414.37 787.38 L413.85 784.84 L413.32 782.28 L412.79 779.70 L412.25 777.12 L411.69 774.52 L411.13 771.91 L410.55 769.29 L409.97 766.65 L409.38 764.00 L408.78 761.33 L408.18 758.65 L407.57 755.96 L406.94 753.26 L406.32 750.54 L405.68 747.80 L405.03 745.05 L404.38 742.29 L403.72 739.51 L403.06 736.72 L402.38 733.91 L401.69 731.09 L400.99 728.25 L400.29 725.39 L399.58 722.52 L398.85 719.64 L398.11 716.74 L397.37 713.82 L396.62 710.88 L395.85 707.93 L395.08 704.96 L394.29 701.98 L393.50 698.98 L392.68 695.96 L391.87 692.92 L391.04 689.86 L390.20 686.79 L389.34 683.70 L388.47 680.59 L387.59 677.46 L386.71 674.31 L385.80 671.15 L384.88 667.96 L383.95 664.76 L383.01 661.53 L382.05 658.29 L381.07 655.02 L380.09 651.73 L379.09 648.43 L378.07 645.10 L377.04 641.75 L375.99 638.38 L374.93 634.98 L373.85 631.57 L372.75 628.13 L371.63 624.67 L370.50 621.18 L369.36 617.68 L368.19 614.14 L367.01 610.59 L365.81 607.01 L364.58 603.40 L363.35 599.77 L362.09 596.12 L360.80 592.44 L359.51 588.73 L358.21 584.99 L356.91 581.23 L355.57 577.45 L354.22 573.63 L352.84 569.78 L351.44 565.91 L350.02 562.01 L348.58 558.08 L347.11 554.12 L345.61 550.13 L344.10 546.10 L342.56 542.05 L340.99 537.96 L339.40 533.85 L337.79 529.70 L336.14 525.51 L334.47 521.29 L332.77 517.04 L331.05 512.75 L329.29 508.43 L327.51 504.07 L325.69 499.68 L323.85 495.24 L321.98 490.77 L320.09 486.26 L318.15 481.71 L316.18 477.12 L314.19 472.49 L312.17 467.82 L310.11 463.11 L308.02 458.35 L305.90 453.55 L303.75 448.70 L301.55 443.81 L299.34 438.88 L297.08 433.89 L294.78 428.86 L292.46 423.78 L290.10 418.64 L287.70 413.46 L285.35 408.23 L282.95 402.94 L280.53 397.59 L278.08 392.20 L275.58 386.74 L273.05 381.23 L270.48 375.66 L267.88 370.03 L265.24 364.33 L262.57 358.58 L259.86 352.76 L257.12 346.87 L254.35 340.92 L251.53 334.90 L248.68 328.80 L245.79 322.64 L242.88 316.40 L239.92 310.09 L236.93 303.70 L233.91 297.22 L230.91 290.67 L227.89 284.04 L224.83 277.32 L221.73 270.51 L218.61 263.61 L215.45 256.61 L212.26 249.53 L209.04 242.34 L205.78 235.06 L202.49 227.67 L199.17 220.17 L195.82 212.57 L192.44 204.85 L189.03 197.02 L185.58 189.07 L182.11 180.99 L178.60 172.79 L175.07 164.45 L171.50 155.98 L167.91 147.37 L164.21 138.62 L160.47 129.71 L156.70 120.65 L152.90 111.43 L149.07 102.05 L145.22 92.49 L141.33 82.75 L137.41 72.83 L133.46 62.72 L129.48 52.40" stroke="#7fe000" stroke-width="1.0"/>
<path d="M448.61 799.94 L448.23 797.45 L447.85 794.95 L447.46 792.44 L447.07 789.92 L446.67 787.38 L446.27 784.84 L445.87 782.28 L445.45 779.70 L445.04 777.12 L444.62 774.52 L444.17 771.91 L443.72 769.29 L443.27 766.65 L442.81 764.00 L442.34 761.33 L441.87 758.65 L441.39 755.96 L440.91 753.26 L440.42 750.54 L439.92 747.80 L439.41 745.05 L438.90 742.29 L438.39 739.51 L437.86 736.72 L437.33 733.91 L436.79 731.09 L436.25 728.25 L435.69 725.39 L435.13 722.52 L434.56 719.64 L433.99 716.74 L433.40 713.82 L432.81 710.88 L432.21 707.93 L431.60 704.96 L430.98 701.98 L430.35 698.98 L429.72 695.96 L429.07 692.92 L428.42 689.86 L427.75 686.79 L427.08 683.70 L426.39 680.59 L425.70 677.46 L425.00 674.31 L424.28 671.15 L423.55 667.96 L422.81 664.76 L422.07 661.53 L421.30 658.29 L420.53 655.02 L419.75 651.73 L418.95 648.43 L418.14 645.10 L417.32 641.75 L416.49 638.38 L415.64 634.98 L414.77 631.57 L413.90 628.13 L413.00 624.67 L412.09 621.18 L411.17 617.68 L410.24 614.14 L409.28 610.59 L408.31 607.01 L407.33 603.40 L406.32 599.77 L405.30 596.12 L404.27 592.44 L403.21 588.73 L402.20 584.99 L401.16 581.23 L400.10 577.45 L399.03 573.63 L397.94 569.78 L396.83 565.91 L395.69 562.01 L394.54 558.08 L393.37 554.12 L392.17 550.13 L390.95 546.10 L389.70 542.05 L388.44 537.96 L387.14 533.85 L385.83 529.70 L384.49 525.51 L383.12 521.29 L381.73 517.04 L380.32 512.75 L378.87 508.43 L377.40 504.07 L375.90 499.68 L374.37 495.24 L372.80 490.77 L371.21 486.26 L369.59 481.71 L367.94 477.12 L366.26 472.49 L364.54 467.82 L362.79 463.11 L361.00 458.35 L359.19 453.55 L357.33 448.70 L355.44 443.81 L353.52 438.88 L351.55 433.89 L349.55 428.86 L347.52 423.78 L345.43 418.64 L343.32 413.46 L341.25 408.23 L339.16 402.94 L337.01 397.59 L334.83 392.20 L332.61 386.74 L330.34 381.23 L328.03 375.66 L325.68 370.03 L323.28 364.33 L320.85 358.58 L318.37 352.76 L315.85 346.87 L313.27 340.92 L310.66 334.90 L308.00 328.80 L305.29 322.64 L302.54 316.40 L299.75 310.09 L296.91 303.70 L294.02 297.22 L291.09 290.67 L288.11 284.04 L285.09 277.32 L282.02 270.51 L278.90 263.61 L275.75 256.61 L272.54 249.53 L269.29 242.34 L265.99 235.06 L262.66 227.67 L259.27 220.17 L255.85 212.57 L252.37 204.85 L248.86 197.02 L245.30 189.07 L241.71 180.99 L238.07 172.79 L234.37 164.45 L230.65 155.98 L226.89 147.37 L222.99 138.62 L219.04 129.71 L215.06 120.65 L211.03 111.43 L206.96 102.05 L202.85 92.49 L198.71 82.75 L194.52 72.83 L190.30 62.72 L186.03 52.40" stroke="#7fe000" stroke-width="1.0"/>
<path d="M480.41 799.94 L480.14 797.45 L479.86 794.95 L479.58 792.44 L479.30 789.92 L479.02 787.38 L478.73 784.84 L478.44 782.28 L478.14 779.70 L477.84 777.12 L477.54 774.52 L477.22 771.91 L476.91 769.29 L476.58 766.65 L476.26 764.00 L475.93 761.33 L475.60 758.65 L475.26 755.96 L474.92 753.26 L474.57 750.54 L474.22 747.80 L473.85 745.05 L473.49 742.29 L473.13 739.51 L472.75 736.72 L472.38 733.91 L471.99 731.09 L471.61 728.25 L471.21 725.39 L470.81 722.52 L470.41 719.64 L469.99 716.74 L469.58 713.82 L469.16 710.88 L468.72 707.93 L468.29 704.96 L467.85 701.98 L467.40 698.98 L466.94 695.96 L466.48 692.92 L466.01 689.86 L465.53 686.79 L465.05 683.70 L464.55 680.59 L464.05 677.46 L463.55 674.31 L463.03 671.15 L462.51 667.96 L461.97 664.76 L461.43 661.53 L460.88 658.29 L460.32 655.02 L459.75 651.73 L459.17 648.43 L458.59 645.10 L457.99 641.75 L457.38 638.38 L456.76 634.98 L456.13 631.57 L455.49 628.13 L454.84 624.67 L454.17 621.18 L453.50 617.68 L452.81 614.14 L452.11 610.59 L451.40 607.01 L450.68 603.40 L449.94 599.77 L449.19 596.12 L448.42 592.44 L447.64 588.73 L446.89 584.99 L446.12 581.23 L445.34 577.45 L444.55 573.63 L443.74 569.78 L442.91 565.91 L442.06 562.01 L441.21 558.08 L440.32 554.12 L439.43 550.13 L438.51 546.10 L437.58 542.05 L436.62 537.96 L435.65 533.85 L434.65 529.70 L433.64 525.51 L432.60 521.29 L431.54 517.04 L430.45 512.75 L429.35 508.43 L428.21 504.07 L427.06 499.68 L425.88 495.24 L424.67 490.77 L423.44 486.26 L422.18 481.71 L420.89 477.12 L419.57 472.49 L418.22 467.82 L416.84 463.11 L415.43 458.35 L413.99 453.55 L412.52 448.70 L411.00 443.81 L409.46 438.88 L407.88 433.89 L406.27 428.86 L404.61 423.78 L402.92 418.64 L401.19 413.46 L399.56 408.23 L397.89 402.94 L396.17 397.59 L394.42 392.20 L392.61 386.74 L390.78 381.23 L388.89 375.66 L386.96 370.03 L384.97 364.33 L382.95 358.58 L380.87 352.76 L378.75 346.87 L376.57 340.92 L374.35 334.90 L372.07 328.80 L369.73 322.64 L367.35 316.40 L364.91 310.09 L362.41 303.70 L359.85 297.22 L357.15 290.67 L354.38 284.04 L351.56 277.32 L348.67 270.51 L345.71 263.61 L342.72 256.61 L339.65 249.53 L336.51 242.34 L333.32 235.06 L330.06 227.67 L326.74 220.17 L323.35 212.57 L319.91 204.85 L316.40 197.02 L312.83 189.07 L309.20 180.99 L305.51 172.79 L301.75 164.45 L297.93 155.98 L294.05 147.37 L290.10 138.62 L286.11 129.71 L282.04 120.65 L277.93 111.43 L273.75 102.05 L269.51 92.49 L265.22 82.75 L260.86 72.83 L256.46 62.72 L252.01 52.40" stroke="#7fe000" stroke-width="1.0"/>
<path d="M512.31 799.94 L512.14 797.45 L511.96 794.95 L511.78 792.44 L511.60 789.92 L511.41 787.38 L511.23 784.84 L511.04 782.28 L510.85 779.70 L510.65 777.12 L510.46 774.52 L510.26 771.91 L510.06 769.29 L509.85 766.65 L509.64 764.00 L509.43 761.33 L509.22 758.65 L509.00 755.96 L508.78 753.26 L508.57 750.54 L508.34 747.80 L508.11 745.05 L507.88 742.29 L507.64 739.51 L507.40 736.72 L507.16 733.91 L506.91 731.09 L506.66 728.25 L506.41 725.39 L506.15 722.52 L505.89 719.64 L505.62 716.74 L505.35 713.82 L505.08 710.88 L504.80 707.93 L504.52 704.96 L504.23 701.98 L503.94 698.98 L503.64 695.96 L503.34 692.92 L503.04 689.86 L502.72 686.79 L502.41 683.70 L502.08 680.59 L501.76 677.46 L501.43 674.31 L501.09 671.15 L500.74 667.96 L500.39 664.76 L500.04 661.53 L499.67 658.29 L499.31 655.02 L498.93 651.73 L498.55 648.43 L498.16 645.10 L497.76 641.75 L497.36 638.38 L496.95 634.98 L496.53 631.57 L496.10 628.13 L495.67 624.67 L495.23 621.18 L494.78 617.68 L494.32 614.14 L493.85 610.59 L493.38 607.01 L492.89 603.40 L492.39 599.77 L491.89 596.12 L491.37 592.44 L490.84 588.73 L490.37 584.99 L489.89 581.23 L489.40 577.45 L488.89 573.63 L488.38 569.78 L487.85 565.91 L487.31 562.01 L486.76 558.08 L486.19 554.12 L485.62 550.13 L485.02 546.10 L484.42 542.05 L483.80 537.96 L483.16 533.85 L482.51 529.70 L481.85 525.51 L481.17 521.29 L480.47 517.04 L479.76 512.75 L479.02 508.43 L478.27 504.07 L477.51 499.68 L476.72 495.24 L475.91 490.77 L475.08 486.26 L474.23 481.71 L473.36 477.12 L472.47 472.49 L471.55 467.82 L470.61 463.11 L469.64 458.35 L468.65 453.55 L467.63 448.70 L466.59 443.81 L465.51 438.88 L464.41 433.89 L463.28 428.86 L462.12 423.78 L460.92 418.64 L459.70 413.46 L458.39 408.23 L457.05 402.94 L455.67 397.59 L454.25 392.20 L452.80 386.74 L451.30 381.23 L449.76 375.66 L448.18 370.03 L446.55 364.33 L444.88 358.58 L443.16 352.76 L441.40 346.87 L439.57 340.92 L437.70 334.90 L435.78 328.80 L433.80 322.64 L431.76 316.40 L429.67 310.09 L427.51 303.70 L425.29 297.22 L423.11 290.67 L420.85 284.04 L418.53 277.32 L416.14 270.51 L413.69 263.61 L411.16 256.61 L408.56 249.53 L405.88 242.34 L403.13 235.06 L400.31 227.67 L397.40 220.17 L394.41 212.57 L391.33 204.85 L388.18 197.02 L384.94 189.07 L381.62 180.99 L378.21 172.79 L374.71 164.45 L371.13 155.98 L367.46 147.37 L363.68 138.62 L359.82 129.71 L355.86 120.65 L351.82 111.43 L347.69 102.05 L343.46 92.49 L339.15 82.75 L334.76 72.83 L330.27 62.72 L325.71 52.40" stroke="#7fe000" stroke-width="1.0"/>
<path d="M544.32 799.94 L544.24 797.45 L544.15 794.95 L544.05 792.44 L543.96 789.92 L543.87 787.38 L543.77 784.84 L543.68 782.28 L543.58 779.70 L543.48 777.12 L543.38 774.52 L543.27 771.91 L543.17 769.29 L543.07 766.65 L542.95 764.00 L542.85 761.33 L542.74 758.65 L542.62 755.96 L542.51 753.26 L542.39 750.54 L542.27 747.80 L542.15 745.05 L542.03 742.29 L541.90 739.51 L541.78 736.72 L541.65 733.91 L541.52 731.09 L541.38 728.25 L541.25 725.39 L541.11 722.52 L540.97 719.64 L540.83 716.74 L540.68 713.82 L540.53 710.88 L540.38 707.93 L540.23 704.96 L540.07 701.98 L539.91 698.98 L539.75 695.96 L539.58 692.92 L539.42 689.86 L539.25 686.79 L539.07 683.70 L538.90 680.59 L538.71 677.46 L538.53 674.31 L538.34 671.15 L538.15 667.96 L537.96 664.76 L537.76 661.53 L537.56 658.29 L537.35 655.02 L537.14 651.73 L536.92 648.43 L536.70 645.10 L536.48 641.75 L536.25 638.38 L536.02 634.98 L535.78 631.57 L535.54 628.13 L535.29 624.67 L535.04 621.18 L534.78 617.68 L534.51 614.14 L534.24 610.59 L533.97 607.01 L533.69 603.40 L533.40 599.77 L533.10 596.12 L532.80 592.44 L532.50 588.73 L532.24 584.99 L531.97 581.23 L531.70 577.45 L531.42 573.63 L531.13 569.78 L530.83 565.91 L530.53 562.01 L530.22 558.08 L529.90 554.12 L529.57 550.13 L529.23 546.10 L528.89 542.05 L528.53 537.96 L528.16 533.85 L527.79 529.70 L527.40 525.51 L527.01 521.29 L526.60 517.04 L526.18 512.75 L525.75 508.43 L525.31 504.07 L524.86 499.68 L524.39 495.24 L523.91 490.77 L523.41 486.26 L522.90 481.71 L522.38 477.12 L521.84 472.49 L521.29 467.82 L520.72 463.11 L520.13 458.35 L519.52 453.55 L518.90 448.70 L518.25 443.81 L517.59 438.88 L516.91 433.89 L516.21 428.86 L515.48 423.78 L514.73 418.64 L513.96 413.46 L513.12 408.23 L512.25 402.94 L511.36 397.59 L510.44 392.20 L509.49 386.74 L508.51 381.23 L507.50 375.66 L506.46 370.03 L505.38 364.33 L504.27 358.58 L503.12 352.76 L501.93 346.87 L500.71 340.92 L499.44 334.90 L498.13 328.80 L496.77 322.64 L495.37 316.40 L493.92 310.09 L492.42 303.70 L490.87 297.22 L489.23 290.67 L487.54 284.04 L485.79 277.32 L483.98 270.51 L482.10 263.61 L480.17 256.61 L478.15 249.53 L476.06 242.34 L473.91 235.06 L471.67 227.67 L469.35 220.17 L466.95 212.57 L464.45 204.85 L461.87 197.02 L459.20 189.07 L456.42 180.99 L453.55 172.79 L450.57 164.45 L447.49 155.98 L444.29 147.37 L441.12 138.62 L437.83 129.71 L434.43 120.65 L430.91 111.43 L427.27 102.05 L423.49 92.49 L419.60 82.75 L415.57 72.83 L411.41 62.72 L407.12 52.40" stroke="#7fe000" stroke-width="1.0"/>
<path d="M576.46 799.94 L576.45 797.45 L576.43 794.95 L576.42 792.44 L576.40 789.92 L576.39 787.38 L576.37 784.84 L576.35 782.28 L576.34 779.70 L576.32 777.12 L576.30 774.52 L576.26 771.91 L576.22 769.29 L576.19 766.65 L576.14 764.00 L576.11 761.33 L576.07 758.65 L576.02 755.96 L575.98 753.26 L575.94 750.54 L575.89 747.80 L575.85 745.05 L575.80 742.29 L575.75 739.51 L575.70 736.72 L575.66 733.91 L575.61 731.09 L575.56 728.25 L575.50 725.39 L575.45 722.52 L575.39 719.64 L575.34 716.74 L575.28 713.82 L575.22 710.88 L575.16 707.93 L575.10 704.96 L575.03 701.98 L574.97 698.98 L574.90 695.96 L574.84 692.92 L574.77 689.86 L574.70 686.79 L574.62 683.70 L574.55 680.59 L574.47 677.46 L574.40 674.31 L574.31 671.15 L574.23 667.96 L574.15 664.76 L574.06 661.53 L573.97 658.29 L573.89 655.02 L573.79 651.73 L573.70 648.43 L573.60 645.10 L573.50 641.75 L573.40 638.38 L573.29 634.98 L573.19 631.57 L573.08 628.13 L572.97 624.67 L572.85 621.18 L572.73 617.68 L572.61 614.14 L572.49 610.59 L572.36 607.01 L572.23 603.40 L572.09 599.77 L571.95 596.12 L571.81 592.44 L571.67 588.73 L571.59 584.99 L571.51 581.23 L571.42 577.45 L571.33 573.63 L571.24 569.78 L571.14 565.91 L571.04 562.01 L570.94 558.08 L570.83 554.12 L570.71 550.13 L570.59 546.10 L570.47 542.05 L570.34 537.96 L570.21 533.85 L570.07 529.70 L569.92 525.51 L569.77 521.29 L569.61 517.04 L569.45 512.75 L569.28 508.43 L569.10 504.07 L568.92 499.68 L568.72 495.24 L568.53 490.77 L568.32 486.26 L568.10 481.71 L567.88 477.12 L567.65 472.49 L567.41 467.82 L567.16 463.11 L566.90 458.35 L566.63 453.55 L566.35 448.70 L566.06 443.81 L565.75 438.88 L565.44 433.89 L565.11 428.86 L564.77 423.78 L564.41 418.64 L564.04 413.46 L563.64 408.23 L563.22 402.94 L562.79 397.59 L562.33 392.20 L561.87 386.74 L561.38 381.23 L560.87 375.66 L560.34 370.03 L559.79 364.33 L559.23 358.58 L558.63 352.76 L558.02 346.87 L557.38 340.92 L556.71 334.90 L556.01 328.80 L555.29 322.64 L554.54 316.40 L553.75 310.09 L552.93 303.70 L552.08 297.22 L551.11 290.67 L550.11 284.04 L549.06 277.32 L547.97 270.51 L546.84 263.61 L545.65 256.61 L544.42 249.53 L543.14 242.34 L541.80 235.06 L540.40 227.67 L538.94 220.17 L537.42 212.57 L535.83 204.85 L534.17 197.02 L532.43 189.07 L530.61 180.99 L528.72 172.79 L526.73 164.45 L524.65 155.98 L522.47 147.37 L520.22 138.62 L517.86 129.71 L515.40 120.65 L512.81 111.43 L510.10 102.05 L507.25 92.49 L504.27 82.75 L501.14 72.83 L497.86 62.72 L494.43 52.40" stroke="#7fe000" stroke-width="1.0"/>
<path d="M608.72 799.94 L608.77 797.45 L608.82 794.95 L608.87 792.44 L608.92 789.92 L608.97 787.38 L609.01 784.84 L609.07 782.28 L609.12 779.70 L609.17 777.12 L609.22 774.52 L609.24 771.91 L609.26 769.29 L609.28 766.65 L609.30 764.00 L609.33 761.33 L609.35 758.65 L609.37 755.96 L609.39 753.26 L609.42 750.54 L609.44 747.80 L609.46 745.05 L609.48 742.29 L609.50 739.51 L609.52 736.72 L609.54 733.91 L609.56 731.09 L609.58 728.25 L609.60 725.39 L609.62 722.52 L609.64 719.64 L609.66 716.74 L609.68 713.82 L609.70 710.88 L609.71 707.93 L609.73 704.96 L609.75 701.98 L609.77 698.98 L609.79 695.96 L609.80 692.92 L609.82 689.86 L609.83 686.79 L609.85 683.70 L609.86 680.59 L609.88 677.46 L609.89 674.31 L609.90 671.15 L609.92 667.96 L609.93 664.76 L609.94 661.53 L609.95 658.29 L609.96 655.02 L609.97 651.73 L609.98 648.43 L609.98 645.10 L609.99 641.75 L610.00 638.38 L610.00 634.98 L610.00 631.57 L610.01 628.13 L610.01 624.67 L610.01 621.18 L610.01 617.68 L610.01 614.14 L610.01 610.59 L610.00 607.01 L610.00 603.40 L609.99 599.77 L609.99 596.12 L609.98 592.44 L609.97 588.73 L610.04 584.99 L610.11 581.23 L610.18 577.45 L610.25 573.63 L610.31 569.78 L610.38 565.91 L610.44 562.01 L610.51 558.08 L610.57 554.12 L610.63 550.13 L610.69 546.10 L610.74 542.05 L610.80 537.96 L610.85 533.85 L610.90 529.70 L610.95 525.51 L611.00 521.29 L611.04 517.04 L611.09 512.75 L611.13 508.43 L611.16 504.07 L611.20 499.68 L611.23 495.24 L611.26 490.77 L611.28 486.26 L611.31 481.71 L611.33 477.12 L611.34 472.49 L611.35 467.82 L611.36 463.11 L611.37 458.35 L611.37 453.55 L611.36 448.70 L611.36 443.81 L611.34 438.88 L611.32 433.89 L611.30 428.86 L611.27 423.78 L611.23 418.64 L611.18 413.46 L611.14 408.23 L611.09 402.94 L611.04 397.59 L610.97 392.20 L610.90 386.74 L610.82 381.23 L610.73 375.66 L610.63 370.03 L610.53 364.33 L610.41 358.58 L610.28 352.76 L610.14 346.87 L609.98 340.92 L609.82 334.90 L609.64 328.80 L609.45 322.64 L609.24 316.40 L609.02 310.09 L608.77 303.70 L608.52 297.22 L608.18 290.67 L607.82 284.04 L607.44 277.32 L607.03 270.51 L606.61 263.61 L606.15 256.61 L605.68 249.53 L605.17 242.34 L604.63 235.06 L604.06 227.67 L603.46 220.17 L602.82 212.57 L602.14 204.85 L601.42 197.02 L600.66 189.07 L599.86 180.99 L599.00 172.79 L598.09 164.45 L597.12 155.98 L596.11 147.37 L594.96 138.62 L593.75 129.71 L592.47 120.65 L591.10 111.43 L589.66 102.05 L588.12 92.49 L586.49 82.75 L584.75 72.83 L582.91 62.72 L580.95 52.40" stroke="#7fe000" stroke-width="1.0"/>
<path d="M204.89 774.52 L206.55 769.29 L208.24 764.00 L209.94 758.65 L211.67 753.26 L213.41 747.80 L215.17 742.29 L216.95 736.72 L218.75 731.09 L220.57 725.39 L222.42 719.64 L224.29 713.82 L226.17 707.93 L228.08 701.98 L230.02 695.96 L231.98 689.86 L233.96 683.70 L235.97 677.46 L238.00 671.15 L240.06 664.76 L242.15 658.29 L244.27 651.73 L246.41 645.10 L248.59 638.38 L250.79 631.57 L253.02 624.67 L255.29 617.68 L257.59 610.59 L259.92 603.40 L262.29 596.12 L264.69 588.73 L267.13 581.23 L269.61 573.63 L272.12 565.91 L274.68 558.08 L277.28 550.13 L279.92 542.05 L282.60 533.85 L285.33 525.51 L288.10 517.04 L290.93 508.43 L293.80 499.68 L296.73 490.77 L299.71 481.71 L302.74 472.49 L305.84 463.11 L308.99 453.55 L312.20 443.81 L315.48 433.89 L318.83 423.78 L322.25 413.46 L325.74 402.94 L329.30 392.20 L332.95 381.23 L336.68 370.03 L340.49 358.58 L344.39 346.87 L348.39 334.90 L352.49 322.64 L356.69 310.09 L361.00 297.22" stroke="#7fe000" stroke-dasharray="3.9 4.4" stroke-width="1.15"/>
<path d="M275.23 774.52 L276.82 769.29 L278.43 764.00 L280.06 758.65 L281.70 753.26 L283.37 747.80 L285.05 742.29 L286.75 736.72 L288.47 731.09 L290.21 725.39 L291.97 719.64 L293.76 713.82 L295.56 707.93 L297.39 701.98 L299.24 695.96 L301.11 689.86 L303.01 683.70 L304.93 677.46 L306.87 671.15 L308.85 664.76 L310.84 658.29 L312.87 651.73 L314.92 645.10 L317.00 638.38 L319.11 631.57 L321.25 624.67 L323.42 617.68 L325.62 610.59 L327.85 603.40 L330.12 596.12 L332.42 588.73 L334.76 581.23 L337.13 573.63 L339.54 565.91 L341.99 558.08 L344.48 550.13 L347.01 542.05 L349.58 533.85 L352.20 525.51 L354.86 517.04 L357.57 508.43 L360.33 499.68 L363.14 490.77 L366.00 481.71 L368.91 472.49 L371.88 463.11 L374.91 453.55 L377.99 443.81 L381.14 433.89 L384.36 423.78 L387.64 413.46 L391.00 402.94 L394.42 392.20 L397.93 381.23 L401.51 370.03 L405.18 358.58 L408.93 346.87 L412.78 334.90 L416.72 322.64 L420.76 310.09 L424.91 297.22" stroke="#7fe000" stroke-dasharray="3.9 4.4" stroke-width="1.15"/>
<path d="M318.82 774.52 L320.37 769.29 L321.93 764.00 L323.50 758.65 L325.10 753.26 L326.71 747.80 L328.34 742.29 L329.99 736.72 L331.66 731.09 L333.35 725.39 L335.06 719.64 L336.79 713.82 L338.55 707.93 L340.32 701.98 L342.11 695.96 L343.93 689.86 L345.77 683.70 L347.64 677.46 L349.53 671.15 L351.44 664.76 L353.38 658.29 L355.35 651.73 L357.34 645.10 L359.36 638.38 L361.41 631.57 L363.49 624.67 L365.60 617.68 L367.73 610.59 L369.91 603.40 L372.11 596.12 L374.35 588.73 L376.62 581.23 L378.92 573.63 L381.27 565.91 L383.65 558.08 L386.07 550.13 L388.53 542.05 L391.03 533.85 L393.58 525.51 L396.17 517.04 L398.80 508.43 L401.49 499.68 L404.22 490.77 L407.00 481.71 L409.84 472.49 L412.73 463.11 L415.68 453.55 L418.68 443.81 L421.75 433.89 L424.88 423.78 L428.08 413.46 L431.35 402.94 L434.69 392.20 L438.10 381.23 L441.59 370.03 L445.17 358.58 L448.83 346.87 L452.58 334.90 L456.42 322.64 L460.36 310.09 L464.41 297.22" stroke="#7fe000" stroke-dasharray="3.9 4.4" stroke-width="1.15"/>
<path d="M376.49 774.52 L377.96 769.29 L379.46 764.00 L380.97 758.65 L382.50 753.26 L384.04 747.80 L385.61 742.29 L387.19 736.72 L388.79 731.09 L390.41 725.39 L392.05 719.64 L393.70 713.82 L395.38 707.93 L397.08 701.98 L398.80 695.96 L400.55 689.86 L402.31 683.70 L404.10 677.46 L405.92 671.15 L407.75 664.76 L409.61 658.29 L411.50 651.73 L413.41 645.10 L415.35 638.38 L417.32 631.57 L419.32 624.67 L421.34 617.68 L423.40 610.59 L425.48 603.40 L427.60 596.12 L429.75 588.73 L431.93 581.23 L434.15 573.63 L436.40 565.91 L438.69 558.08 L441.02 550.13 L443.39 542.05 L445.79 533.85 L448.24 525.51 L450.73 517.04 L453.27 508.43 L455.85 499.68 L458.48 490.77 L461.16 481.71 L463.89 472.49 L466.68 463.11 L469.52 453.55 L472.41 443.81 L475.37 433.89 L478.39 423.78 L481.47 413.46 L484.62 402.94 L487.84 392.20 L491.13 381.23 L494.50 370.03 L497.95 358.58 L501.48 346.87 L505.10 334.90 L508.81 322.64 L512.61 310.09 L516.52 297.22" stroke="#7fe000" stroke-dasharray="3.9 4.4" stroke-width="1.15"/>
<path d="M432.37 774.52 L433.78 769.29 L435.21 764.00 L436.65 758.65 L438.11 753.26 L439.59 747.80 L441.09 742.29 L442.60 736.72 L444.13 731.09 L445.68 725.39 L447.25 719.64 L448.84 713.82 L450.44 707.93 L452.07 701.98 L453.72 695.96 L455.39 689.86 L457.08 683.70 L458.79 677.46 L460.53 671.15 L462.29 664.76 L464.07 658.29 L465.88 651.73 L467.71 645.10 L469.57 638.38 L471.46 631.57 L473.37 624.67 L475.31 617.68 L477.28 610.59 L479.28 603.40 L481.32 596.12 L483.38 588.73 L485.47 581.23 L487.60 573.63 L489.76 565.91 L491.96 558.08 L494.20 550.13 L496.47 542.05 L498.78 533.85 L501.14 525.51 L503.53 517.04 L505.97 508.43 L508.45 499.68 L510.98 490.77 L513.56 481.71 L516.18 472.49 L518.86 463.11 L521.59 453.55 L524.38 443.81 L527.23 433.89 L530.13 423.78 L533.10 413.46 L536.13 402.94 L539.23 392.20 L542.40 381.23 L545.65 370.03 L548.97 358.58 L552.38 346.87 L555.86 334.90 L559.44 322.64 L563.11 310.09 L566.88 297.22" stroke="#7fe000" stroke-dasharray="3.9 4.4" stroke-width="1.15"/>
<path d="M482.82 774.52 L484.17 769.29 L485.53 764.00 L486.92 758.65 L488.32 753.26 L489.73 747.80 L491.16 742.29 L492.61 736.72 L494.08 731.09 L495.56 725.39 L497.07 719.64 L498.59 713.82 L500.13 707.93 L501.69 701.98 L503.27 695.96 L504.87 689.86 L506.49 683.70 L508.14 677.46 L509.80 671.15 L511.49 664.76 L513.20 658.29 L514.94 651.73 L516.70 645.10 L518.48 638.38 L520.29 631.57 L522.13 624.67 L523.99 617.68 L525.89 610.59 L527.81 603.40 L529.76 596.12 L531.74 588.73 L533.76 581.23 L535.80 573.63 L537.88 565.91 L540.00 558.08 L542.15 550.13 L544.33 542.05 L546.56 533.85 L548.82 525.51 L551.13 517.04 L553.47 508.43 L555.86 499.68 L558.30 490.77 L560.78 481.71 L563.31 472.49 L565.89 463.11 L568.52 453.55 L571.21 443.81 L573.95 433.89 L576.75 423.78 L579.61 413.46 L582.54 402.94 L585.53 392.20 L588.59 381.23 L591.72 370.03 L594.93 358.58 L598.22 346.87 L601.59 334.90 L605.04 322.64 L608.59 310.09 L612.23 297.22" stroke="#7fe000" stroke-dasharray="3.9 4.4" stroke-width="1.15"/>
<path d="M549.32 774.52 L550.59 769.29 L551.87 764.00 L553.17 758.65 L554.49 753.26 L555.82 747.80 L557.17 742.29 L558.53 736.72 L559.91 731.09 L561.30 725.39 L562.72 719.64 L564.15 713.82 L565.60 707.93 L567.07 701.98 L568.56 695.96 L570.07 689.86 L571.59 683.70 L573.14 677.46 L574.71 671.15 L576.30 664.76 L577.92 658.29 L579.56 651.73 L581.22 645.10 L582.90 638.38 L584.61 631.57 L586.34 624.67 L588.11 617.68 L589.89 610.59 L591.71 603.40 L593.55 596.12 L595.43 588.73 L597.33 581.23 L599.27 573.63 L601.23 565.91 L603.23 558.08 L605.27 550.13 L607.34 542.05 L609.44 533.85 L611.59 525.51 L613.77 517.04 L615.99 508.43 L618.26 499.68 L620.57 490.77 L622.92 481.71 L625.32 472.49 L627.77 463.11 L630.27 453.55 L632.82 443.81 L635.42 433.89 L638.08 423.78 L640.80 413.46 L643.58 402.94 L646.42 392.20 L649.33 381.23 L652.31 370.03 L655.36 358.58 L658.49 346.87 L661.70 334.90 L664.99 322.64 L668.37 310.09 L671.84 297.22" stroke="#7fe000" stroke-dasharray="3.9 4.4" stroke-width="1.15"/>
</g>
<path d="M57.0 52.4 H629.3" stroke="#5e4312" stroke-width="1.3" fill="none"/>
<path d="M57.0 799.9 H759.6" stroke="#5e4312" stroke-width="1.3" fill="none"/>
<path d="M629.30 52.40 L629.30 297.22 L759.30 529.20 L759.30 799.90" stroke="#333" stroke-width="1" fill="none"/>
<path d="M629.30 297.22 L759.30 529.20" stroke="#111" stroke-width="1.15" fill="none"/>
<path d="M57.0 52.4 V799.9" stroke="#333" stroke-width="1" fill="none"/>
<path d="M86.6 799.9 v9" stroke="#222" stroke-width="1"/>
<path d="M168.9 799.9 v9" stroke="#222" stroke-width="1"/>
<path d="M251.2 799.9 v9" stroke="#222" stroke-width="1"/>
<path d="M333.5 799.9 v9" stroke="#222" stroke-width="1"/>
<path d="M415.8 799.9 v9" stroke="#222" stroke-width="1"/>
<path d="M498.1 799.9 v9" stroke="#222" stroke-width="1"/>
<path d="M580.4 799.9 v9" stroke="#222" stroke-width="1"/>
<path d="M662.7 799.9 v9" stroke="#222" stroke-width="1"/>
<path d="M115.3 53.5 L65.9 92.6 L56.8 128.8 V745" stroke="#000" stroke-width="1.8" fill="none" stroke-linejoin="round"/>
<path d="M57 52.4 V745.5" stroke="#1cb01c" stroke-width="2.2" fill="none"/>
<path d="M228.20 52.40 C228.90 55.53 230.92 64.73 232.40 71.20 C233.88 77.67 235.25 85.32 237.10 91.20 C238.95 97.08 241.25 101.22 243.50 106.50 C245.75 111.78 248.33 117.80 250.60 122.90 C252.87 128.00 255.33 133.17 257.10 137.10 C258.87 141.03 258.93 141.30 261.20 146.50 C263.47 151.70 267.60 161.00 270.70 168.30 C273.80 175.60 276.88 183.18 279.80 190.30 C282.72 197.42 285.83 204.97 288.20 211.00 C290.57 217.03 292.40 221.58 294.00 226.50 C295.60 231.42 296.12 234.33 297.80 240.50 C299.48 246.67 301.18 256.13 304.10 263.50 C307.02 270.87 312.25 279.02 315.30 284.70 C318.35 290.38 320.35 293.28 322.40 297.60 C324.45 301.92 325.85 306.08 327.60 310.60 C329.35 315.12 331.23 320.13 332.90 324.70 C334.57 329.27 335.87 333.23 337.60 338.00 C339.33 342.77 341.27 347.30 343.30 353.30 C345.33 359.30 347.87 367.32 349.80 374.00 C351.73 380.68 353.50 386.93 354.90 393.40 C356.30 399.87 357.22 407.40 358.20 412.80 C359.18 418.20 360.07 421.77 360.80 425.80 C361.53 429.83 361.72 429.12 362.60 437.00 C363.48 444.88 365.05 463.08 366.10 473.10 C367.15 483.12 367.60 488.38 368.90 497.10 C370.20 505.82 372.00 516.25 373.90 525.40 C375.80 534.55 377.55 541.55 380.30 552.00 C383.05 562.45 387.32 576.67 390.40 588.10 C393.48 599.53 396.22 610.72 398.80 620.60 C401.38 630.48 404.27 640.83 405.90 647.40 C407.53 653.97 407.35 655.78 408.60 660.00 C409.85 664.22 412.08 668.70 413.40 672.70 C414.72 676.70 415.80 680.23 416.50 684.00 C417.20 687.77 417.65 691.07 417.60 695.30 C417.55 699.53 416.90 704.70 416.20 709.40 C415.50 714.10 414.23 719.27 413.40 723.50 C412.57 727.73 411.48 731.97 411.20 734.80 C410.92 737.63 411.22 738.97 411.70 740.50 C412.18 742.03 412.83 743.13 414.10 744.00 C415.37 744.87 418.43 745.42 419.30 745.70" stroke="#0a6cff" stroke-width="2.7" fill="none" stroke-linecap="butt"/>
<path d="M458.5 687.5 L505.1 744.7" stroke="#7a007a" stroke-width="1.9" stroke-dasharray="12 4.7" stroke-dashoffset="3" fill="none"/>
<path d="M274.10 52.40 C274.88 55.33 277.13 64.13 278.80 70.00 C280.47 75.87 282.53 82.70 284.10 87.60 C285.67 92.50 286.33 94.68 288.20 99.40 C290.07 104.12 292.93 110.40 295.30 115.90 C297.67 121.40 300.13 127.38 302.40 132.40 C304.67 137.42 305.98 139.58 308.90 146.00 C311.82 152.42 316.35 162.65 319.90 170.90 C323.45 179.15 326.75 187.08 330.20 195.50 C333.65 203.92 337.58 213.90 340.60 221.40 C343.62 228.90 345.65 234.07 348.30 240.50 C350.95 246.93 354.15 254.20 356.50 260.00 C358.85 265.80 360.45 269.42 362.40 275.30 C364.35 281.18 366.25 288.25 368.20 295.30 C370.15 302.35 372.43 311.32 374.10 317.60 C375.77 323.88 376.65 327.48 378.20 333.00 C379.75 338.52 381.78 344.73 383.40 350.70 C385.02 356.67 386.38 362.33 387.90 368.80 C389.42 375.27 390.87 382.05 392.50 389.50 C394.13 396.95 395.85 405.75 397.70 413.50 C399.55 421.25 401.22 427.23 403.60 436.00 C405.98 444.77 409.42 456.38 412.00 466.10 C414.58 475.82 416.63 484.42 419.10 494.30 C421.57 504.18 424.35 515.78 426.80 525.40 C429.25 535.02 431.52 542.02 433.80 552.00 C436.08 561.98 438.45 574.57 440.50 585.30 C442.55 596.03 444.33 606.28 446.10 616.40 C447.87 626.52 449.95 638.73 451.10 646.00 C452.25 653.27 452.35 655.55 453.00 660.00 C453.65 664.45 454.20 668.47 455.00 672.70 C455.80 676.93 456.62 681.40 457.80 685.40 C458.98 689.40 460.33 692.93 462.10 696.70 C463.87 700.47 465.93 704.00 468.40 708.00 C470.87 712.00 473.83 716.47 476.90 720.70 C479.97 724.93 483.98 730.10 486.80 733.40 C489.62 736.70 491.45 738.67 493.80 740.50 C496.15 742.33 498.67 743.52 500.90 744.40 C503.13 745.28 506.15 745.57 507.20 745.80" stroke="#ff0000" stroke-width="2.8" fill="none"/>
<circle cx="433.4" cy="745.8" r="3.8" fill="#0a6cff"/>
<circle cx="507.5" cy="746.1" r="3.8" fill="#ff0000"/>
<text transform="translate(639.6 200.7) rotate(-44)" font-size="20" text-anchor="middle" fill="#ffa500" dy="7.1">0</text>
<text transform="translate(661.0 320.6) rotate(-44)" font-size="20" text-anchor="middle" fill="#ffa500" dy="7.1">10</text>
<text transform="translate(702.5 398.2) rotate(-44)" font-size="20" text-anchor="middle" fill="#ffa500" dy="7.1">20</text>
<text transform="translate(745.0 475.0) rotate(-44)" font-size="20" text-anchor="middle" fill="#ffa500" dy="7.1">30</text>
<path d="M713.3 52.4 V781.8" stroke="#333" stroke-width="1" fill="none"/>
<path d="M804.3 51 V800" stroke="#000" stroke-width="1.9" fill="none"/>
<path d="M804.3 781.8 h10" stroke="#222" stroke-width="1"/>
<text x="824.6" y="788.1" font-size="17.2" fill="#000" stroke="#000" stroke-width="0.3">0</text>
<path d="M804.3 743.6 h10" stroke="#222" stroke-width="1"/>
<text x="824.6" y="749.9" font-size="17.2" fill="#000" stroke="#000" stroke-width="0.3">2</text>
<path d="M804.3 705.3 h10" stroke="#222" stroke-width="1"/>
<text x="824.6" y="711.6" font-size="17.2" fill="#000" stroke="#000" stroke-width="0.3">4</text>
<path d="M804.3 666.2 h10" stroke="#222" stroke-width="1"/>
<text x="824.6" y="672.5" font-size="17.2" fill="#000" stroke="#000" stroke-width="0.3">6</text>
<path d="M804.3 626.6 h10" stroke="#222" stroke-width="1"/>
<text x="824.6" y="632.9" font-size="17.2" fill="#000" stroke="#000" stroke-width="0.3">8</text>
<path d="M804.3 586.3 h10" stroke="#222" stroke-width="1"/>
<text x="824.6" y="592.6" font-size="17.2" fill="#000" stroke="#000" stroke-width="0.3">10</text>
<path d="M804.3 545.6 h10" stroke="#222" stroke-width="1"/>
<text x="824.6" y="551.9" font-size="17.2" fill="#000" stroke="#000" stroke-width="0.3">12</text>
<path d="M804.3 504.2 h10" stroke="#222" stroke-width="1"/>
<text x="824.6" y="510.5" font-size="17.2" fill="#000" stroke="#000" stroke-width="0.3">14</text>
<path d="M804.3 462.6 h10" stroke="#222" stroke-width="1"/>
<text x="824.6" y="468.9" font-size="17.2" fill="#000" stroke="#000" stroke-width="0.3">16</text>
<path d="M804.3 419.5 h10" stroke="#222" stroke-width="1"/>
<text x="824.6" y="425.8" font-size="17.2" fill="#000" stroke="#000" stroke-width="0.3">18</text>
<path d="M804.3 376.5 h10" stroke="#222" stroke-width="1"/>
<text x="824.6" y="382.8" font-size="17.2" fill="#000" stroke="#000" stroke-width="0.3">20</text>
<path d="M804.3 332.3 h10" stroke="#222" stroke-width="1"/>
<text x="824.6" y="338.6" font-size="17.2" fill="#000" stroke="#000" stroke-width="0.3">22</text>
<path d="M804.3 287.0 h10" stroke="#222" stroke-width="1"/>
<text x="824.6" y="293.3" font-size="17.2" fill="#000" stroke="#000" stroke-width="0.3">24</text>
<path d="M804.3 242.1 h10" stroke="#222" stroke-width="1"/>
<text x="824.6" y="248.4" font-size="17.2" fill="#000" stroke="#000" stroke-width="0.3">26</text>
<path d="M804.3 195.1 h10" stroke="#222" stroke-width="1"/>
<text x="824.6" y="201.4" font-size="17.2" fill="#000" stroke="#000" stroke-width="0.3">28</text>
<path d="M804.3 148.1 h10" stroke="#222" stroke-width="1"/>
<text x="824.6" y="154.4" font-size="17.2" fill="#000" stroke="#000" stroke-width="0.3">30</text>
<path d="M804.3 100.5 h10" stroke="#222" stroke-width="1"/>
<text x="824.6" y="106.8" font-size="17.2" fill="#000" stroke="#000" stroke-width="0.3">32</text>
<path d="M800.50 52.00 C800.68 60.00 801.88 84.00 801.60 100.00 C801.32 116.00 800.03 132.17 798.80 148.00 C797.57 163.83 795.55 179.33 794.20 195.00 C792.85 210.67 792.13 226.67 790.70 242.00 C789.27 257.33 786.77 272.00 785.60 287.00 C784.43 302.00 784.05 317.17 783.70 332.00 C783.35 346.83 783.65 361.33 783.50 376.00 C783.35 390.67 783.15 405.57 782.80 420.00 C782.45 434.43 782.30 448.60 781.40 462.60 C780.50 476.60 779.15 490.17 777.40 504.00 C775.65 517.83 773.13 531.93 770.90 545.60 C768.67 559.27 765.43 575.27 764.00 586.00 C762.57 596.73 762.87 603.33 762.30 610.00 C761.73 616.67 761.70 619.33 760.60 626.00 C759.50 632.67 756.92 643.33 755.70 650.00 C754.48 656.67 753.95 659.33 753.30 666.00 C752.65 672.67 752.02 683.50 751.80 690.00 C751.58 696.50 752.08 700.00 752.00 705.00 C751.92 710.00 751.63 715.00 751.30 720.00 C750.97 725.00 750.62 731.50 750.00 735.00 C749.38 738.50 748.60 739.50 747.60 741.00 C746.60 742.50 745.53 743.25 744.00 744.00 C742.47 744.75 739.33 745.25 738.40 745.50" stroke="#ff2020" stroke-width="1.2" fill="none"/>
<path d="M713.30 54.30 L690.20 27.35" stroke="#000" stroke-width="1.70" fill="none"/>
<path d="M690.20 27.35 L693.39 31.07 L696.58 20.23 Z" fill="#000" stroke="#000" stroke-width="0.3"/>
<path d="M695.27 33.27 L698.21 23.29" stroke="#000" stroke-width="1.15" fill="none"/>
<path d="M697.32 35.66 L700.26 25.68" stroke="#000" stroke-width="1.15" fill="none"/>
<path d="M699.37 38.05 L702.31 28.07" stroke="#000" stroke-width="1.15" fill="none"/>
<path d="M713.30 93.20 L689.23 67.11" stroke="#000" stroke-width="1.70" fill="none"/>
<path d="M689.23 67.11 L692.55 70.71 L695.34 59.76 Z" fill="#000" stroke="#000" stroke-width="0.3"/>
<path d="M694.51 72.84 L697.08 62.77" stroke="#000" stroke-width="1.15" fill="none"/>
<path d="M696.65 75.16 L699.22 65.08" stroke="#000" stroke-width="1.15" fill="none"/>
<path d="M698.79 77.47 L701.36 67.40" stroke="#000" stroke-width="1.15" fill="none"/>
<path d="M713.30 128.80 L689.18 102.75" stroke="#000" stroke-width="1.70" fill="none"/>
<path d="M689.18 102.75 L692.51 106.35 L695.28 95.39 Z" fill="#000" stroke="#000" stroke-width="0.3"/>
<path d="M694.48 108.48 L697.03 98.39" stroke="#000" stroke-width="1.15" fill="none"/>
<path d="M696.62 110.79 L699.17 100.71" stroke="#000" stroke-width="1.15" fill="none"/>
<path d="M698.76 113.10 L699.89 108.64" stroke="#000" stroke-width="1.0" fill="none"/>
<path d="M713.30 162.30 L689.13 136.30" stroke="#000" stroke-width="1.70" fill="none"/>
<path d="M689.13 136.30 L692.47 139.89 L695.22 128.93 Z" fill="#000" stroke="#000" stroke-width="0.3"/>
<path d="M694.44 142.01 L696.98 131.92" stroke="#000" stroke-width="1.15" fill="none"/>
<path d="M696.59 144.32 L699.12 134.23" stroke="#000" stroke-width="1.15" fill="none"/>
<path d="M698.73 146.62 L699.85 142.16" stroke="#000" stroke-width="1.0" fill="none"/>
<path d="M713.30 193.00 L689.09 167.03" stroke="#000" stroke-width="1.70" fill="none"/>
<path d="M689.09 167.03 L692.43 170.62 L695.17 159.65 Z" fill="#000" stroke="#000" stroke-width="0.3"/>
<path d="M694.41 172.74 L696.93 162.65" stroke="#000" stroke-width="1.15" fill="none"/>
<path d="M696.56 175.04 L699.08 164.95" stroke="#000" stroke-width="1.15" fill="none"/>
<path d="M698.71 177.35 L699.82 172.88" stroke="#000" stroke-width="1.0" fill="none"/>
<path d="M713.30 225.20 L689.05 199.27" stroke="#000" stroke-width="1.70" fill="none"/>
<path d="M689.05 199.27 L692.40 202.85 L695.11 191.88 Z" fill="#000" stroke="#000" stroke-width="0.3"/>
<path d="M694.38 204.97 L696.88 194.88" stroke="#000" stroke-width="1.15" fill="none"/>
<path d="M696.53 207.27 L699.03 197.18" stroke="#000" stroke-width="1.15" fill="none"/>
<path d="M713.30 264.00 L689.00 238.12" stroke="#000" stroke-width="1.70" fill="none"/>
<path d="M689.00 238.12 L692.35 241.69 L695.05 230.72 Z" fill="#000" stroke="#000" stroke-width="0.3"/>
<path d="M694.34 243.81 L696.82 233.71" stroke="#000" stroke-width="1.15" fill="none"/>
<path d="M696.49 246.10 L697.59 241.64" stroke="#000" stroke-width="1.0" fill="none"/>
<path d="M713.30 308.00 L689.09 282.04" stroke="#000" stroke-width="1.70" fill="none"/>
<path d="M689.09 282.04 L692.43 285.62 L695.16 274.66 Z" fill="#000" stroke="#000" stroke-width="0.3"/>
<path d="M694.41 287.74 L696.92 277.65" stroke="#000" stroke-width="1.15" fill="none"/>
<path d="M696.56 290.05 L697.67 285.58" stroke="#000" stroke-width="1.0" fill="none"/>
<path d="M713.30 353.00 L687.89 328.21" stroke="#000" stroke-width="1.70" fill="none"/>
<path d="M687.89 328.21 L691.40 331.63 L693.61 320.55 Z" fill="#000" stroke="#000" stroke-width="0.3"/>
<path d="M693.48 333.65 L695.51 323.46" stroke="#000" stroke-width="1.15" fill="none"/>
<path d="M713.30 397.50 L687.32 373.30" stroke="#000" stroke-width="1.70" fill="none"/>
<path d="M687.32 373.30 L690.91 376.64 L692.86 365.51 Z" fill="#000" stroke="#000" stroke-width="0.3"/>
<path d="M693.03 378.62 L694.83 368.38" stroke="#000" stroke-width="1.15" fill="none"/>
<path d="M713.30 436.50 L686.29 413.46" stroke="#000" stroke-width="1.70" fill="none"/>
<path d="M686.29 413.46 L690.02 416.64 L691.49 405.44 Z" fill="#000" stroke="#000" stroke-width="0.3"/>
<path d="M692.23 418.52 L693.58 408.21" stroke="#000" stroke-width="1.15" fill="none"/>
<path d="M713.30 470.00 L685.33 448.14" stroke="#000" stroke-width="1.70" fill="none"/>
<path d="M685.33 448.14 L689.19 451.16 L690.17 439.90 Z" fill="#000" stroke="#000" stroke-width="0.3"/>
<path d="M691.47 452.95 L692.38 442.59" stroke="#000" stroke-width="1.15" fill="none"/>
<path d="M713.30 497.40 L683.85 477.57" stroke="#000" stroke-width="1.70" fill="none"/>
<path d="M683.85 477.57 L687.92 480.31 L688.11 469.01 Z" fill="#000" stroke="#000" stroke-width="0.3"/>
<path d="M690.32 481.93 L690.40 477.33" stroke="#000" stroke-width="1.0" fill="none"/>
<path d="M713.30 520.00 L683.06 501.40" stroke="#000" stroke-width="1.70" fill="none"/>
<path d="M683.06 501.40 L687.24 503.97 L686.96 492.67 Z" fill="#000" stroke="#000" stroke-width="0.3"/>
<path d="M689.71 505.49 L689.59 500.89" stroke="#000" stroke-width="1.0" fill="none"/>
<path d="M713.30 537.60 L681.91 521.02" stroke="#000" stroke-width="1.70" fill="none"/>
<path d="M681.91 521.02 L686.24 523.30 L685.23 512.05 Z" fill="#000" stroke="#000" stroke-width="0.3"/>
<path d="M713.30 551.20 L680.99 536.50" stroke="#000" stroke-width="1.70" fill="none"/>
<path d="M680.99 536.50 L685.45 538.53 L683.77 527.35 Z" fill="#000" stroke="#000" stroke-width="0.3"/>
<path d="M713.30 564.30 L684.17 552.57" stroke="#000" stroke-width="1.05" fill="none"/>
<path d="M684.17 552.57 L682.18 542.36" stroke="#000" stroke-width="1.00" fill="none"/>
<path d="M687.10 553.75 L685.10 543.54" stroke="#000" stroke-width="1.00" fill="none"/>
<path d="M690.02 554.92 L688.02 544.72" stroke="#000" stroke-width="1.00" fill="none"/>
<path d="M692.94 556.10 L690.94 545.89" stroke="#000" stroke-width="1.00" fill="none"/>
<path d="M695.86 557.28 L694.98 552.76" stroke="#000" stroke-width="1.0" fill="none"/>
<path d="M713.30 576.00 L683.70 565.52" stroke="#000" stroke-width="1.05" fill="none"/>
<path d="M683.70 565.52 L681.27 555.41" stroke="#000" stroke-width="1.00" fill="none"/>
<path d="M686.67 566.57 L684.24 556.46" stroke="#000" stroke-width="1.00" fill="none"/>
<path d="M689.64 567.62 L687.21 557.51" stroke="#000" stroke-width="1.00" fill="none"/>
<path d="M692.61 568.67 L690.18 558.56" stroke="#000" stroke-width="1.00" fill="none"/>
<path d="M695.58 569.72 L694.50 565.25" stroke="#000" stroke-width="1.0" fill="none"/>
<path d="M713.30 587.00 L683.46 577.23" stroke="#000" stroke-width="1.05" fill="none"/>
<path d="M683.46 577.23 L680.79 567.18" stroke="#000" stroke-width="1.00" fill="none"/>
<path d="M686.45 578.21 L683.78 568.16" stroke="#000" stroke-width="1.00" fill="none"/>
<path d="M689.45 579.19 L686.78 569.14" stroke="#000" stroke-width="1.00" fill="none"/>
<path d="M692.44 580.17 L689.77 570.12" stroke="#000" stroke-width="1.00" fill="none"/>
<path d="M695.43 581.15 L694.25 576.71" stroke="#000" stroke-width="1.0" fill="none"/>
<path d="M713.30 597.50 L683.24 588.42" stroke="#000" stroke-width="1.05" fill="none"/>
<path d="M683.24 588.42 L680.34 578.43" stroke="#000" stroke-width="1.00" fill="none"/>
<path d="M686.26 589.33 L683.36 579.34" stroke="#000" stroke-width="1.00" fill="none"/>
<path d="M689.27 590.24 L686.37 580.25" stroke="#000" stroke-width="1.00" fill="none"/>
<path d="M692.29 591.15 L689.39 581.16" stroke="#000" stroke-width="1.00" fill="none"/>
<path d="M695.30 592.06 L694.02 587.64" stroke="#000" stroke-width="1.0" fill="none"/>
<path d="M713.30 607.60 L683.12 598.92" stroke="#000" stroke-width="1.05" fill="none"/>
<path d="M683.12 598.92 L680.09 588.97" stroke="#000" stroke-width="1.00" fill="none"/>
<path d="M686.15 599.79 L683.12 589.84" stroke="#000" stroke-width="1.00" fill="none"/>
<path d="M689.18 600.66 L686.15 590.71" stroke="#000" stroke-width="1.00" fill="none"/>
<path d="M692.21 601.53 L689.17 591.58" stroke="#000" stroke-width="1.00" fill="none"/>
<path d="M695.23 602.40 L693.89 598.00" stroke="#000" stroke-width="1.0" fill="none"/>
<path d="M713.30 617.00 L683.04 608.61" stroke="#000" stroke-width="1.05" fill="none"/>
<path d="M683.04 608.61 L679.91 598.69" stroke="#000" stroke-width="1.00" fill="none"/>
<path d="M686.08 609.45 L682.95 599.53" stroke="#000" stroke-width="1.00" fill="none"/>
<path d="M689.11 610.29 L685.99 600.37" stroke="#000" stroke-width="1.00" fill="none"/>
<path d="M692.15 611.13 L689.02 601.22" stroke="#000" stroke-width="1.00" fill="none"/>
<path d="M695.18 611.98 L693.80 607.59" stroke="#000" stroke-width="1.0" fill="none"/>
<path d="M713.30 625.70 L683.23 616.65" stroke="#000" stroke-width="1.05" fill="none"/>
<path d="M683.23 616.65 L680.32 606.66" stroke="#000" stroke-width="1.00" fill="none"/>
<path d="M686.25 617.56 L683.34 607.57" stroke="#000" stroke-width="1.00" fill="none"/>
<path d="M689.27 618.46 L686.36 608.48" stroke="#000" stroke-width="1.00" fill="none"/>
<path d="M692.28 619.37 L689.37 609.39" stroke="#000" stroke-width="1.00" fill="none"/>
<path d="M713.30 634.40 L683.45 624.65" stroke="#000" stroke-width="1.05" fill="none"/>
<path d="M683.45 624.65 L680.78 614.60" stroke="#000" stroke-width="1.00" fill="none"/>
<path d="M686.45 625.63 L683.77 615.58" stroke="#000" stroke-width="1.00" fill="none"/>
<path d="M689.44 626.60 L686.77 616.55" stroke="#000" stroke-width="1.00" fill="none"/>
<path d="M692.44 627.58 L689.76 617.53" stroke="#000" stroke-width="1.00" fill="none"/>
<path d="M713.30 642.50 L683.67 632.10" stroke="#000" stroke-width="1.05" fill="none"/>
<path d="M683.67 632.10 L681.22 621.99" stroke="#000" stroke-width="1.00" fill="none"/>
<path d="M686.64 633.14 L684.19 623.04" stroke="#000" stroke-width="1.00" fill="none"/>
<path d="M689.62 634.19 L687.16 624.08" stroke="#000" stroke-width="1.00" fill="none"/>
<path d="M692.59 635.23 L690.13 625.12" stroke="#000" stroke-width="1.00" fill="none"/>
<path d="M713.30 650.40 L683.92 639.32" stroke="#000" stroke-width="1.05" fill="none"/>
<path d="M683.92 639.32 L681.70 629.16" stroke="#000" stroke-width="1.00" fill="none"/>
<path d="M686.87 640.43 L684.65 630.27" stroke="#000" stroke-width="1.00" fill="none"/>
<path d="M689.81 641.54 L687.59 631.38" stroke="#000" stroke-width="1.00" fill="none"/>
<path d="M692.76 642.65 L691.78 638.16" stroke="#000" stroke-width="1.0" fill="none"/>
<path d="M713.30 658.40 L684.60 645.67" stroke="#000" stroke-width="1.05" fill="none"/>
<path d="M684.60 645.67 L682.95 635.40" stroke="#000" stroke-width="1.00" fill="none"/>
<path d="M687.47 646.95 L685.83 636.68" stroke="#000" stroke-width="1.00" fill="none"/>
<path d="M690.35 648.23 L688.71 637.96" stroke="#000" stroke-width="1.00" fill="none"/>
<path d="M693.23 649.50 L692.51 644.96" stroke="#000" stroke-width="1.0" fill="none"/>
<path d="M713.30 666.10 L685.33 651.83" stroke="#000" stroke-width="1.05" fill="none"/>
<path d="M685.33 651.83 L684.25 641.49" stroke="#000" stroke-width="1.00" fill="none"/>
<path d="M688.14 653.26 L687.05 642.92" stroke="#000" stroke-width="1.00" fill="none"/>
<path d="M690.94 654.69 L689.86 644.35" stroke="#000" stroke-width="1.00" fill="none"/>
<path d="M693.75 656.13 L693.27 651.55" stroke="#000" stroke-width="1.0" fill="none"/>
<path d="M713.30 673.30 L685.86 658.04" stroke="#000" stroke-width="1.05" fill="none"/>
<path d="M685.86 658.04 L685.15 647.66" stroke="#000" stroke-width="1.00" fill="none"/>
<path d="M688.61 659.57 L687.90 649.19" stroke="#000" stroke-width="1.00" fill="none"/>
<path d="M691.37 661.10 L690.66 650.72" stroke="#000" stroke-width="1.00" fill="none"/>
<path d="M694.12 662.63 L693.80 658.04" stroke="#000" stroke-width="1.0" fill="none"/>
<path d="M713.30 680.20 L686.40 664.00" stroke="#000" stroke-width="1.05" fill="none"/>
<path d="M686.40 664.00 L686.05 653.61" stroke="#000" stroke-width="1.00" fill="none"/>
<path d="M689.10 665.63 L688.74 655.24" stroke="#000" stroke-width="1.00" fill="none"/>
<path d="M691.80 667.25 L691.44 656.86" stroke="#000" stroke-width="1.00" fill="none"/>
<path d="M694.50 668.88 L694.34 664.28" stroke="#000" stroke-width="1.0" fill="none"/>
<path d="M713.30 686.70 L686.87 669.75" stroke="#000" stroke-width="1.05" fill="none"/>
<path d="M686.87 669.75 L686.81 659.35" stroke="#000" stroke-width="1.00" fill="none"/>
<path d="M689.52 671.45 L689.46 661.05" stroke="#000" stroke-width="1.00" fill="none"/>
<path d="M692.17 673.15 L692.11 662.75" stroke="#000" stroke-width="1.00" fill="none"/>
<path d="M694.82 674.85 L694.80 670.25" stroke="#000" stroke-width="1.0" fill="none"/>
<path d="M713.30 692.80 L687.33 675.15" stroke="#000" stroke-width="1.05" fill="none"/>
<path d="M687.33 675.15 L687.55 664.75" stroke="#000" stroke-width="1.00" fill="none"/>
<path d="M689.93 676.92 L690.15 666.52" stroke="#000" stroke-width="1.00" fill="none"/>
<path d="M692.54 678.69 L692.76 668.29" stroke="#000" stroke-width="1.00" fill="none"/>
<path d="M695.15 680.46 L695.24 675.86" stroke="#000" stroke-width="1.0" fill="none"/>
<path d="M713.30 698.00 L687.74 679.77" stroke="#000" stroke-width="1.05" fill="none"/>
<path d="M687.74 679.77 L688.19 669.38" stroke="#000" stroke-width="1.00" fill="none"/>
<path d="M690.30 681.60 L690.75 671.21" stroke="#000" stroke-width="1.00" fill="none"/>
<path d="M692.87 683.42 L693.32 673.03" stroke="#000" stroke-width="1.00" fill="none"/>
<path d="M695.43 685.25 L695.63 680.66" stroke="#000" stroke-width="1.0" fill="none"/>
<path d="M713.30 703.50 L688.12 684.73" stroke="#000" stroke-width="1.05" fill="none"/>
<path d="M688.12 684.73 L688.80 674.36" stroke="#000" stroke-width="1.00" fill="none"/>
<path d="M690.65 686.62 L691.32 676.24" stroke="#000" stroke-width="1.00" fill="none"/>
<path d="M693.18 688.50 L693.85 678.12" stroke="#000" stroke-width="1.00" fill="none"/>
<path d="M695.70 690.38 L696.00 685.79" stroke="#000" stroke-width="1.0" fill="none"/>
<path d="M713.30 708.60 L688.46 689.39" stroke="#000" stroke-width="1.05" fill="none"/>
<path d="M688.46 689.39 L689.32 679.02" stroke="#000" stroke-width="1.00" fill="none"/>
<path d="M690.95 691.32 L691.81 680.95" stroke="#000" stroke-width="1.00" fill="none"/>
<path d="M693.45 693.24 L694.30 682.88" stroke="#000" stroke-width="1.00" fill="none"/>
<path d="M695.94 695.17 L696.32 690.59" stroke="#000" stroke-width="1.0" fill="none"/>
<path d="M713.30 713.30 L688.78 693.68" stroke="#000" stroke-width="1.05" fill="none"/>
<path d="M688.78 693.68 L689.81 683.34" stroke="#000" stroke-width="1.00" fill="none"/>
<path d="M691.24 695.65 L692.27 685.30" stroke="#000" stroke-width="1.00" fill="none"/>
<path d="M693.70 697.62 L694.73 687.27" stroke="#000" stroke-width="1.00" fill="none"/>
<path d="M696.16 699.59 L696.61 695.01" stroke="#000" stroke-width="1.0" fill="none"/>
<path d="M713.30 717.90 L689.03 697.98" stroke="#000" stroke-width="1.05" fill="none"/>
<path d="M689.03 697.98 L690.19 687.64" stroke="#000" stroke-width="1.00" fill="none"/>
<path d="M691.47 699.97 L692.62 689.64" stroke="#000" stroke-width="1.00" fill="none"/>
<path d="M693.90 701.97 L695.06 691.64" stroke="#000" stroke-width="1.00" fill="none"/>
<path d="M696.34 703.97 L696.85 699.40" stroke="#000" stroke-width="1.0" fill="none"/>
<path d="M713.30 721.80 L689.21 701.66" stroke="#000" stroke-width="1.05" fill="none"/>
<path d="M689.21 701.66 L690.46 691.33" stroke="#000" stroke-width="1.00" fill="none"/>
<path d="M691.63 703.68 L692.88 693.35" stroke="#000" stroke-width="1.00" fill="none"/>
<path d="M694.05 705.70 L695.30 695.37" stroke="#000" stroke-width="1.00" fill="none"/>
<path d="M696.46 707.72 L697.02 703.15" stroke="#000" stroke-width="1.0" fill="none"/>
<path d="M713.30 725.80 L689.40 705.43" stroke="#000" stroke-width="1.05" fill="none"/>
<path d="M689.40 705.43 L690.75 695.12" stroke="#000" stroke-width="1.00" fill="none"/>
<path d="M691.80 707.48 L693.15 697.16" stroke="#000" stroke-width="1.00" fill="none"/>
<path d="M694.20 709.52 L695.54 699.21" stroke="#000" stroke-width="1.00" fill="none"/>
<path d="M696.59 711.56 L697.19 707.00" stroke="#000" stroke-width="1.0" fill="none"/>
<path d="M713.30 729.50 L689.58 708.93" stroke="#000" stroke-width="1.05" fill="none"/>
<path d="M689.58 708.93 L691.01 698.63" stroke="#000" stroke-width="1.00" fill="none"/>
<path d="M691.96 710.99 L693.39 700.69" stroke="#000" stroke-width="1.00" fill="none"/>
<path d="M694.34 713.05 L695.77 702.75" stroke="#000" stroke-width="1.00" fill="none"/>
<path d="M696.72 715.12 L697.35 710.56" stroke="#000" stroke-width="1.0" fill="none"/>
<path d="M713.30 732.80 L689.67 712.12" stroke="#000" stroke-width="1.05" fill="none"/>
<path d="M689.67 712.12 L691.15 701.83" stroke="#000" stroke-width="1.00" fill="none"/>
<path d="M692.04 714.20 L693.52 703.90" stroke="#000" stroke-width="1.00" fill="none"/>
<path d="M694.41 716.27 L695.89 705.98" stroke="#000" stroke-width="1.00" fill="none"/>
<path d="M713.30 736.00 L689.75 715.23" stroke="#000" stroke-width="1.05" fill="none"/>
<path d="M689.75 715.23 L691.27 704.95" stroke="#000" stroke-width="1.00" fill="none"/>
<path d="M692.11 717.32 L693.63 707.03" stroke="#000" stroke-width="1.00" fill="none"/>
<path d="M694.47 719.40 L695.99 709.11" stroke="#000" stroke-width="1.00" fill="none"/>
<path d="M713.30 738.80 L689.81 717.96" stroke="#000" stroke-width="1.05" fill="none"/>
<path d="M689.81 717.96 L691.37 707.67" stroke="#000" stroke-width="1.00" fill="none"/>
<path d="M692.17 720.05 L693.72 709.77" stroke="#000" stroke-width="1.00" fill="none"/>
<path d="M694.53 722.14 L696.08 711.86" stroke="#000" stroke-width="1.00" fill="none"/>
<path d="M713.30 741.20 L689.87 720.29" stroke="#000" stroke-width="1.05" fill="none"/>
<path d="M689.87 720.29 L691.45 710.01" stroke="#000" stroke-width="1.00" fill="none"/>
<path d="M692.22 722.39 L693.80 712.11" stroke="#000" stroke-width="1.00" fill="none"/>
<path d="M694.57 724.49 L696.15 714.21" stroke="#000" stroke-width="1.00" fill="none"/>
<path d="M713.30 743.00 L689.92 722.04" stroke="#000" stroke-width="1.05" fill="none"/>
<path d="M689.92 722.04 L691.52 711.77" stroke="#000" stroke-width="1.00" fill="none"/>
<path d="M692.26 724.15 L693.87 713.87" stroke="#000" stroke-width="1.00" fill="none"/>
<path d="M694.61 726.25 L696.21 715.97" stroke="#000" stroke-width="1.00" fill="none"/>
<path d="M713.30 744.40 L689.95 723.41" stroke="#000" stroke-width="1.05" fill="none"/>
<path d="M689.95 723.41 L691.57 713.13" stroke="#000" stroke-width="1.00" fill="none"/>
<path d="M692.29 725.51 L693.91 715.24" stroke="#000" stroke-width="1.00" fill="none"/>
<path d="M694.64 727.62 L695.35 723.07" stroke="#000" stroke-width="1.0" fill="none"/>
<path d="M713.30 745.30 L689.97 724.29" stroke="#000" stroke-width="1.05" fill="none"/>
<path d="M689.97 724.29 L691.59 714.02" stroke="#000" stroke-width="1.00" fill="none"/>
<path d="M692.31 726.40 L693.93 716.13" stroke="#000" stroke-width="1.00" fill="none"/>
<path d="M694.65 728.50 L695.37 723.96" stroke="#000" stroke-width="1.0" fill="none"/>
<circle cx="45.2" cy="23.4" r="4.4" fill="#000"/>
<text x="55.8" y="30.6" font-size="20" fill="#000" stroke="#000" stroke-width="0.35" textLength="83.6" lengthAdjust="spacingAndGlyphs" >Oturehua</text>
<text x="146.5" y="27.8" font-size="12.7" fill="#000" stroke="#000" stroke-width="0.25" textLength="146.5" lengthAdjust="spacingAndGlyphs" >-45.007&#176;,169.913&#176; (55,69)</text>
<text x="311.8" y="30.6" font-size="20" fill="#000" stroke="#000" stroke-width="0.35" textLength="153.5" lengthAdjust="spacingAndGlyphs" >Valid 1200 NZDT</text>
<text x="474.0" y="28.7" font-size="15" fill="#000" stroke="#000" stroke-width="0.35" textLength="52.0" lengthAdjust="spacingAndGlyphs" >(2300Z)</text>
<text x="534.9" y="30.6" font-size="20" fill="#000" stroke="#000" stroke-width="0.35" textLength="154.4" lengthAdjust="spacingAndGlyphs" >FRI 21 Nov 2025</text>
<text x="694.8" y="28.7" font-size="15" fill="#000" stroke="#000" stroke-width="0.35" textLength="125.2" lengthAdjust="spacingAndGlyphs" >[11hrFcst@1806z]</text>
<text x="289.9" y="49.0" font-size="12" fill="#b8104f" stroke="#b8104f" stroke-width="0.45" textLength="283.0" lengthAdjust="spacingAndGlyphs" >Plcl=813 Tlcl[C]=5 Shox=5 Pwat[cm]=2 Cape[J]= 19</text>
<text x="45.0" y="58.6" font-size="17" fill="#000" stroke="#000" stroke-width="0.35" text-anchor="end" >250</text>
<text x="45.0" y="153.6" font-size="17" fill="#000" stroke="#000" stroke-width="0.35" text-anchor="end" >300</text>
<text x="45.0" y="303.4" font-size="17" fill="#000" stroke="#000" stroke-width="0.35" text-anchor="end" >400</text>
<text x="45.0" y="419.7" font-size="17" fill="#000" stroke="#000" stroke-width="0.35" text-anchor="end" >500</text>
<text x="45.0" y="594.9" font-size="17" fill="#000" stroke="#000" stroke-width="0.35" text-anchor="end" >700</text>
<text x="45.0" y="696.1" font-size="17" fill="#000" stroke="#000" stroke-width="0.35" text-anchor="end" >850</text>
<text x="45.0" y="780.7" font-size="17" fill="#000" stroke="#000" stroke-width="0.35" text-anchor="end" >1000</text>
<text transform="translate(13.9 444) rotate(-90)" font-size="15" text-anchor="middle" fill="#000" textLength="49.6" lengthAdjust="spacingAndGlyphs">P (hPa)</text>
<text transform="translate(773.5 426) rotate(90)" font-size="18" text-anchor="middle" fill="#000" textLength="139" lengthAdjust="spacingAndGlyphs">Height (1000 Feet)</text>
<text x="86.6" y="833.0" font-size="17" fill="#000" stroke="#000" stroke-width="0.35" text-anchor="middle" >-30</text>
<text x="168.9" y="833.0" font-size="17" fill="#000" stroke="#000" stroke-width="0.35" text-anchor="middle" >-20</text>
<text x="251.2" y="833.0" font-size="17" fill="#000" stroke="#000" stroke-width="0.35" text-anchor="middle" >-10</text>
<text x="333.5" y="833.0" font-size="17" fill="#000" stroke="#000" stroke-width="0.35" text-anchor="middle" >0</text>
<text x="415.8" y="833.0" font-size="17" fill="#000" stroke="#000" stroke-width="0.35" text-anchor="middle" >10</text>
<text x="498.1" y="833.0" font-size="17" fill="#000" stroke="#000" stroke-width="0.35" text-anchor="middle" >20</text>
<text x="580.4" y="833.0" font-size="17" fill="#000" stroke="#000" stroke-width="0.35" text-anchor="middle" >30</text>
<text x="662.7" y="833.0" font-size="17" fill="#000" stroke="#000" stroke-width="0.35" text-anchor="middle" >40</text>
<text x="375.9" y="854.5" font-size="15" fill="#000" stroke="#000" stroke-width="0.35" textLength="109.4" lengthAdjust="spacingAndGlyphs" >Temperature (C)</text>
<text x="47.8" y="49.4" font-size="12.4" fill="#1cb01c" stroke="#1cb01c" stroke-width="0.50" textLength="17.3" lengthAdjust="spacingAndGlyphs" >0.0</text>
<text x="78.7" y="49.4" font-size="12.4" fill="#1cb01c" stroke="#1cb01c" stroke-width="0.50" textLength="16.6" lengthAdjust="spacingAndGlyphs" >0.5</text>
<text x="109.6" y="49.4" font-size="12.4" fill="#1cb01c" stroke="#1cb01c" stroke-width="0.50" textLength="16.4" lengthAdjust="spacingAndGlyphs" >1.0</text>
<text x="47.8" y="798.6" font-size="12.4" fill="#1cb01c" stroke="#1cb01c" stroke-width="0.50" textLength="17.3" lengthAdjust="spacingAndGlyphs" >0.0</text>
<text x="78.7" y="798.6" font-size="12.4" fill="#1cb01c" stroke="#1cb01c" stroke-width="0.50" textLength="16.6" lengthAdjust="spacingAndGlyphs" >0.5</text>
<text x="109.6" y="798.6" font-size="12.4" fill="#1cb01c" stroke="#1cb01c" stroke-width="0.50" textLength="16.4" lengthAdjust="spacingAndGlyphs" >1.0</text>
<text x="47.8" y="64.3" font-size="12.4" fill="#000" stroke="#000" stroke-width="0.50" textLength="17.3" lengthAdjust="spacingAndGlyphs" >0.0</text>
<text x="78.7" y="64.3" font-size="12.4" fill="#000" stroke="#000" stroke-width="0.50" textLength="16.6" lengthAdjust="spacingAndGlyphs" >0.5</text>
<text x="109.6" y="64.3" font-size="12.4" fill="#000" stroke="#000" stroke-width="0.50" textLength="16.4" lengthAdjust="spacingAndGlyphs" >1.0</text>
<text x="47.8" y="812.5" font-size="12.4" fill="#000" stroke="#000" stroke-width="0.50" textLength="17.3" lengthAdjust="spacingAndGlyphs" >0.0</text>
<text x="78.7" y="812.5" font-size="12.4" fill="#000" stroke="#000" stroke-width="0.50" textLength="16.6" lengthAdjust="spacingAndGlyphs" >0.5</text>
<text x="109.6" y="812.5" font-size="12.4" fill="#000" stroke="#000" stroke-width="0.50" textLength="16.4" lengthAdjust="spacingAndGlyphs" >1.0</text>
<text x="132.8" y="798.6" font-size="12.6" fill="#1cb01c" stroke="#1cb01c" stroke-width="0.30" textLength="102.0" lengthAdjust="spacingAndGlyphs" >CloudWater (g/Kg)</text>
<text x="132.8" y="812.5" font-size="12.6" fill="#000" stroke="#000" stroke-width="0.25" textLength="122.5" lengthAdjust="spacingAndGlyphs" >Grid-Scale Cloudiness</text>
<text x="713.1" y="65.6" font-size="13" fill="#ff0000" stroke="#ff0000" stroke-width="0.10" textLength="6.4" lengthAdjust="spacingAndGlyphs" text-anchor="middle" font-weight="bold" >0</text>
<text x="758.8" y="65.6" font-size="13" fill="#ff0000" stroke="#ff0000" stroke-width="0.10" textLength="12.8" lengthAdjust="spacingAndGlyphs" text-anchor="middle" font-weight="bold" >40</text>
<text x="804.5" y="65.6" font-size="13" fill="#ff0000" stroke="#ff0000" stroke-width="0.10" textLength="12.8" lengthAdjust="spacingAndGlyphs" text-anchor="middle" font-weight="bold" >80</text>
<text x="850.0" y="65.6" font-size="13" fill="#ff0000" stroke="#ff0000" stroke-width="0.10" textLength="19.2" lengthAdjust="spacingAndGlyphs" text-anchor="middle" font-weight="bold" >120</text>
<text x="713.1" y="799.9" font-size="13" fill="#ff0000" stroke="#ff0000" stroke-width="0.10" textLength="6.4" lengthAdjust="spacingAndGlyphs" text-anchor="middle" font-weight="bold" >0</text>
<text x="758.8" y="799.9" font-size="13" fill="#ff0000" stroke="#ff0000" stroke-width="0.10" textLength="12.8" lengthAdjust="spacingAndGlyphs" text-anchor="middle" font-weight="bold" >40</text>
<text x="804.5" y="799.9" font-size="13" fill="#ff0000" stroke="#ff0000" stroke-width="0.10" textLength="12.8" lengthAdjust="spacingAndGlyphs" text-anchor="middle" font-weight="bold" >80</text>
<text x="850.0" y="799.9" font-size="13" fill="#ff0000" stroke="#ff0000" stroke-width="0.10" textLength="19.2" lengthAdjust="spacingAndGlyphs" text-anchor="middle" font-weight="bold" >120</text>
<text x="732.3" y="813.5" font-size="12.5" fill="#ff0000" stroke="#ff0000" stroke-width="0.20" textLength="55.6" lengthAdjust="spacingAndGlyphs" >Speed (kt)</text>
<text transform="translate(65.4 142.0) rotate(56)" font-size="13.6" text-anchor="middle" fill="#ffa500" dy="4.8" textLength="17.8" lengthAdjust="spacing">10</text>
<text transform="translate(66.0 288.1) rotate(58)" font-size="13.6" text-anchor="middle" fill="#ffa500" dy="4.8">0</text>
<text transform="translate(66.5 431.6) rotate(57)" font-size="13.6" text-anchor="middle" fill="#ffa500" dy="4.8" textLength="26.7" lengthAdjust="spacing">&#8211;10</text>
<text transform="translate(65.4 571.2) rotate(58)" font-size="13.6" text-anchor="middle" fill="#ffa500" dy="4.8" textLength="26.7" lengthAdjust="spacing">&#8211;20</text>
<text transform="translate(63.5 711.9) rotate(58)" font-size="13.6" text-anchor="middle" fill="#ffa500" dy="4.8" textLength="26.7" lengthAdjust="spacing">&#8211;30</text>
<text transform="translate(202.0 787) rotate(-75)" font-size="14.5" text-anchor="middle" fill="#7fe000" dy="5">1</text>
<text transform="translate(271.9 787) rotate(-75)" font-size="14.5" text-anchor="middle" fill="#7fe000" dy="5">2</text>
<text transform="translate(315.4 787) rotate(-75)" font-size="14.5" text-anchor="middle" fill="#7fe000" dy="5">3</text>
<text transform="translate(372.8 787) rotate(-75)" font-size="14.5" text-anchor="middle" fill="#7fe000" dy="5">5</text>
<text transform="translate(429.9 787) rotate(-75)" font-size="14.5" text-anchor="middle" fill="#7fe000" dy="5">8</text>
<text transform="translate(480.0 787) rotate(-75)" font-size="14.5" text-anchor="middle" fill="#7fe000" dy="5">12</text>
<text transform="translate(546.0 787) rotate(-75)" font-size="14.5" text-anchor="middle" fill="#7fe000" dy="5">20</text>
<path d="M57 52.4 V745.5" stroke="#1cb01c" stroke-width="2.2" fill="none"/>
</svg>
</body></html>
